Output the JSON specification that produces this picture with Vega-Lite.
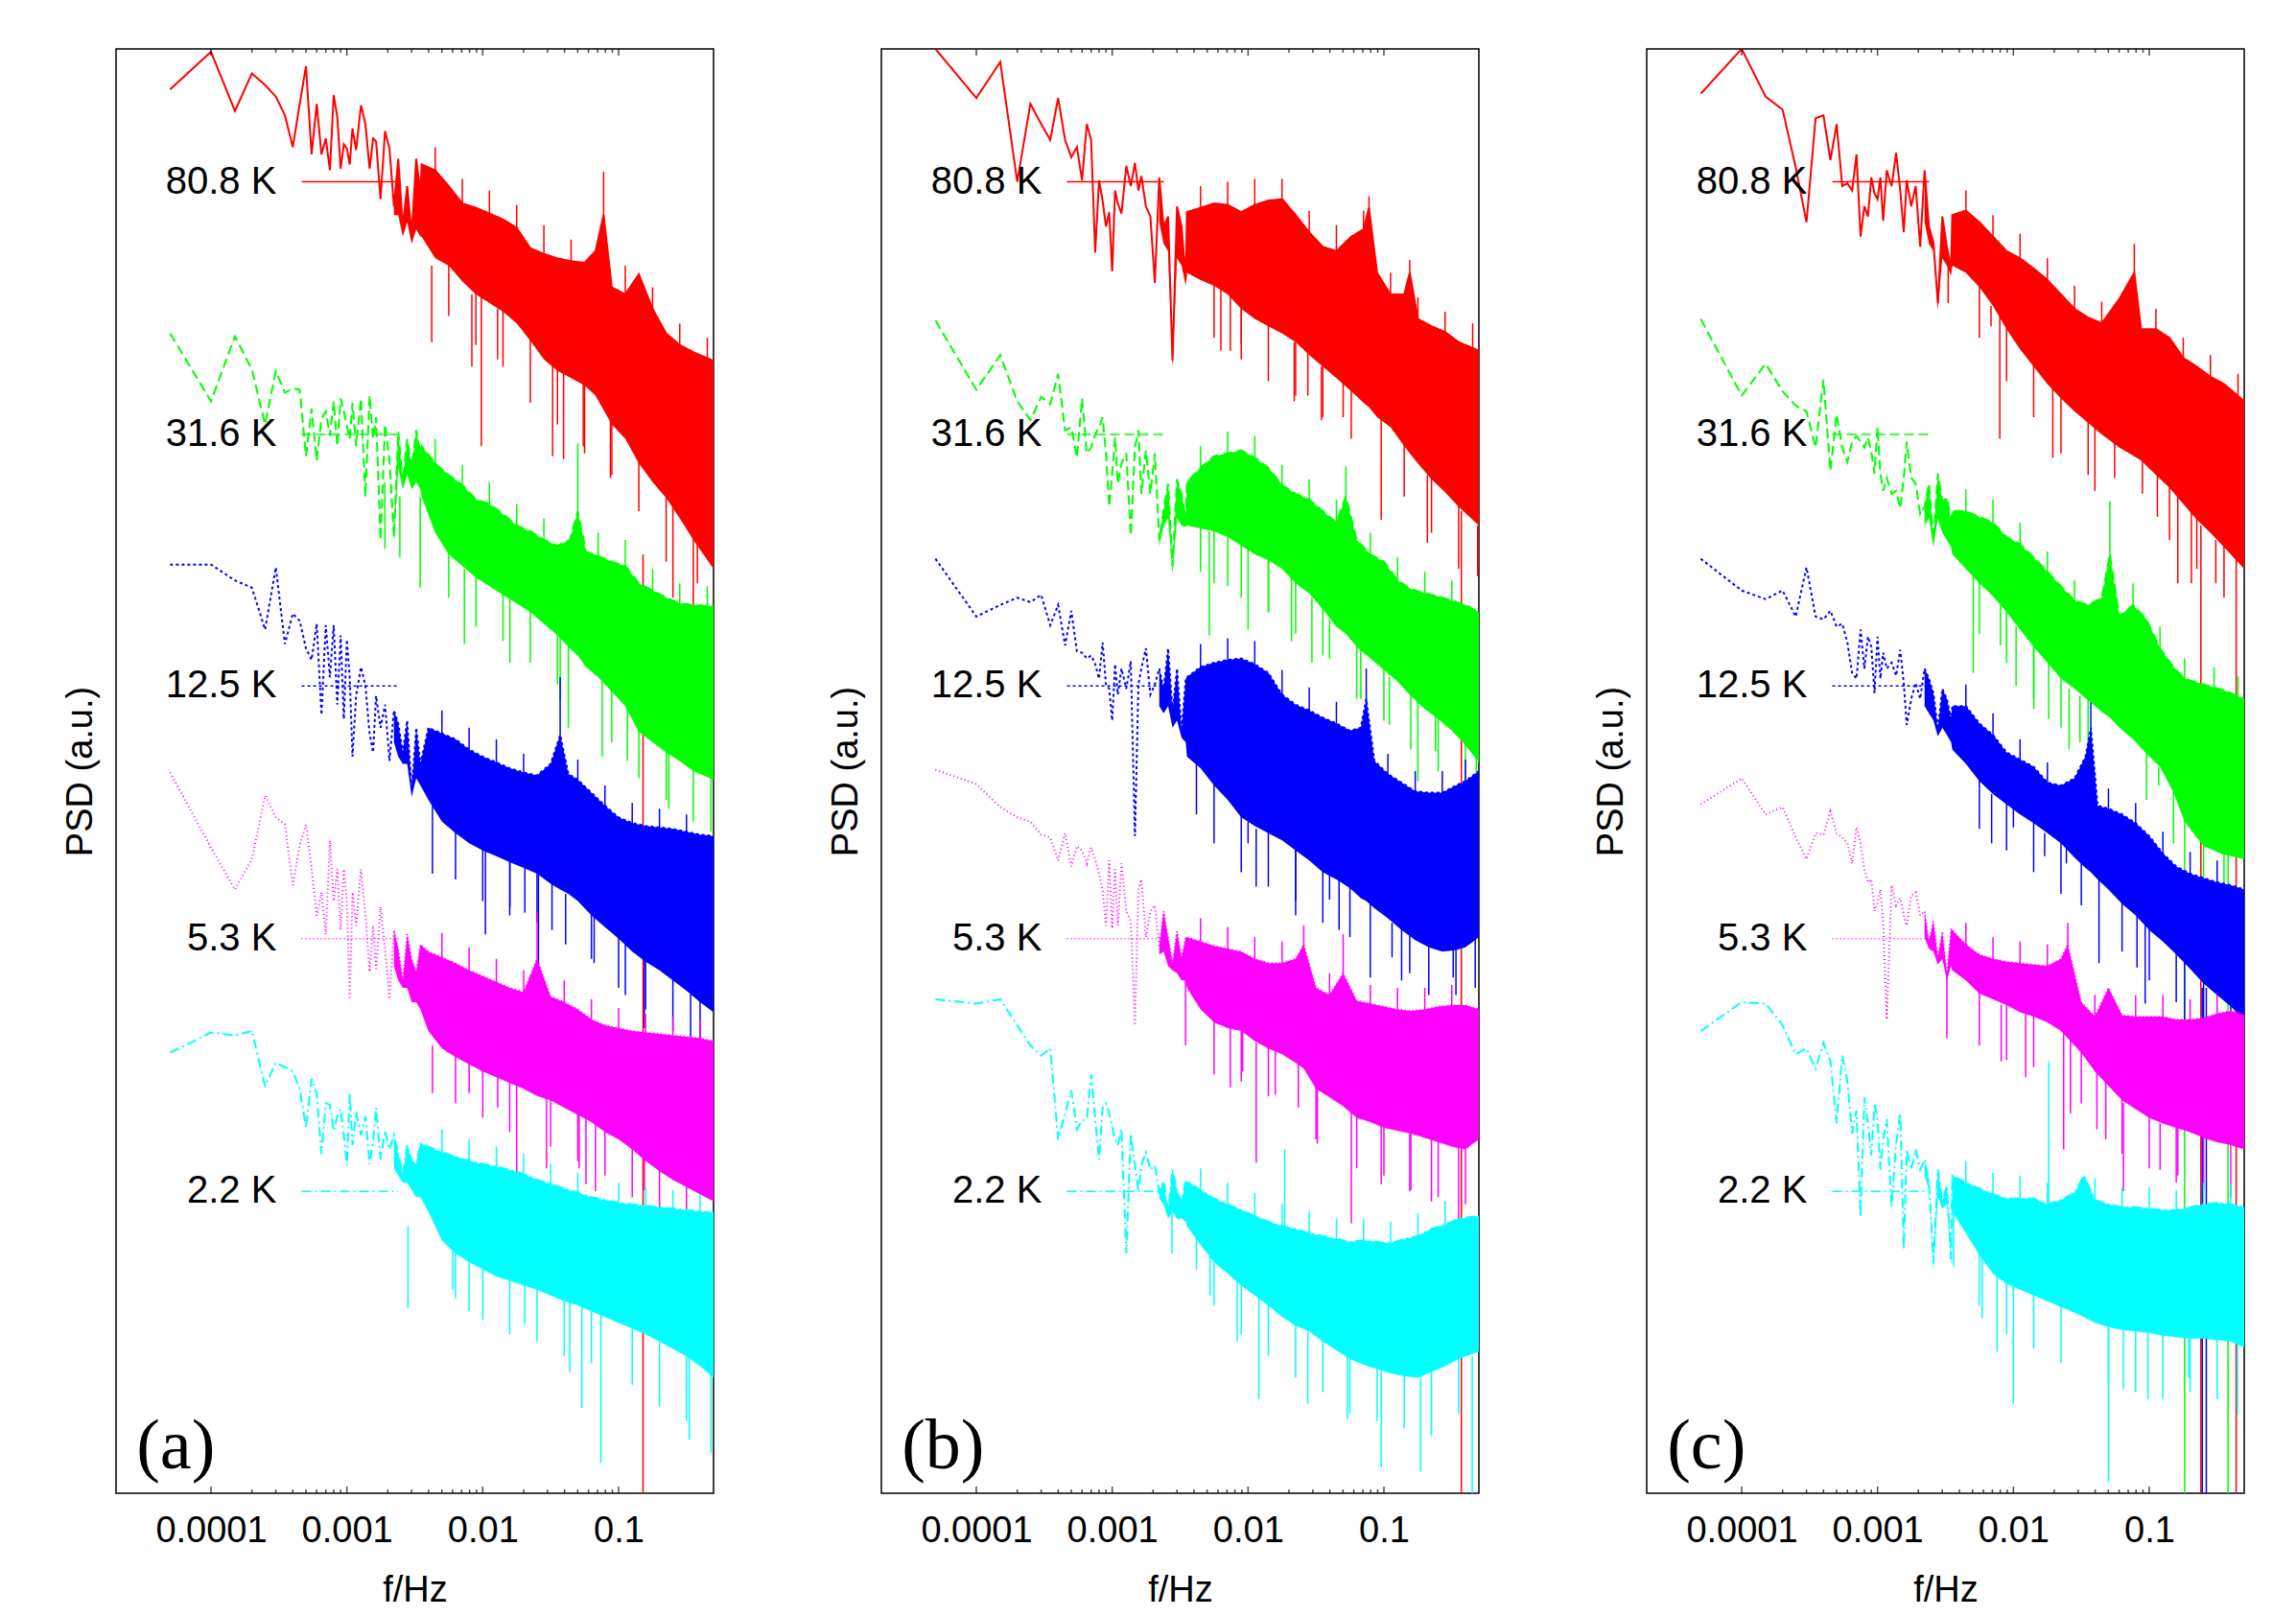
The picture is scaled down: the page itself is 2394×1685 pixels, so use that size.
{
  "$schema": "https://vega.github.io/schema/vega-lite/v6.json",
  "background": "white",
  "padding": {"left": 64, "top": 50, "right": 20, "bottom": 5},
  "spacing": 175,
  "bounds": "flush",
  "config": {
    "font": "Liberation Sans",
    "view": {"stroke": "black", "strokeWidth": 1.5},
    "axisX": {"ticks": false, "domain": false, "grid": false, "labelFontSize": 38, "labelColor": "black", "labelPadding": 20, "titleFontSize": 38, "titleFontWeight": "normal", "titleColor": "black", "titlePadding": 24},
    "axisY": {"labels": false, "ticks": false, "domain": false, "grid": false, "titleFontSize": 38, "titleFontWeight": "normal", "titleColor": "black", "titlePadding": 18}
  },
  "datasets": {
    "leg": [
      {"s": "80.8 K", "h": 9.08}, {"s": "31.6 K", "h": 7.33}, {"s": "12.5 K", "h": 5.59}, {"s": "5.3 K", "h": 3.84}, {"s": "2.2 K", "h": 2.09}
    ],
    "maj": [
      {"f": 1e-4, "h": 0}, {"f": 1e-3, "h": 0}, {"f": 1e-2, "h": 0}, {"f": 1e-1, "h": 0},
      {"f": 1e-4, "h": 10}, {"f": 1e-3, "h": 10}, {"f": 1e-2, "h": 10}, {"f": 1e-1, "h": 10}
    ],
    "min": [
      {"f": 2e-4, "h": 0}, {"f": 3e-4, "h": 0}, {"f": 4e-4, "h": 0}, {"f": 5e-4, "h": 0}, {"f": 6e-4, "h": 0}, {"f": 7e-4, "h": 0}, {"f": 8e-4, "h": 0}, {"f": 9e-4, "h": 0},
      {"f": 2e-3, "h": 0}, {"f": 3e-3, "h": 0}, {"f": 4e-3, "h": 0}, {"f": 5e-3, "h": 0}, {"f": 6e-3, "h": 0}, {"f": 7e-3, "h": 0}, {"f": 8e-3, "h": 0}, {"f": 9e-3, "h": 0},
      {"f": 0.02, "h": 0}, {"f": 0.03, "h": 0}, {"f": 0.04, "h": 0}, {"f": 0.05, "h": 0}, {"f": 0.06, "h": 0}, {"f": 0.07, "h": 0}, {"f": 0.08, "h": 0}, {"f": 0.09, "h": 0},
      {"f": 2e-4, "h": 10}, {"f": 3e-4, "h": 10}, {"f": 4e-4, "h": 10}, {"f": 5e-4, "h": 10}, {"f": 6e-4, "h": 10}, {"f": 7e-4, "h": 10}, {"f": 8e-4, "h": 10}, {"f": 9e-4, "h": 10},
      {"f": 2e-3, "h": 10}, {"f": 3e-3, "h": 10}, {"f": 4e-3, "h": 10}, {"f": 5e-3, "h": 10}, {"f": 6e-3, "h": 10}, {"f": 7e-3, "h": 10}, {"f": 8e-3, "h": 10}, {"f": 9e-3, "h": 10},
      {"f": 0.02, "h": 10}, {"f": 0.03, "h": 10}, {"f": 0.04, "h": 10}, {"f": 0.05, "h": 10}, {"f": 0.06, "h": 10}, {"f": 0.07, "h": 10}, {"f": 0.08, "h": 10}, {"f": 0.09, "h": 10}
    ],
    "aS": [
      {"s":"80.8 K","f":5e-5,"h":9.72},{"s":"80.8 K","f":1e-4,"h":9.98},{"s":"80.8 K","f":1.5e-4,"h":9.57},{"s":"80.8 K","f":2e-4,"h":9.83},{"s":"80.8 K","f":2.5e-4,"h":9.75},{"s":"80.8 K","f":3e-4,"h":9.67},{"s":"80.8 K","f":3.5e-4,"h":9.54},{"s":"80.8 K","f":4e-4,"h":9.32},{"s":"80.8 K","f":4.5e-4,"h":9.62},{"s":"80.8 K","f":5e-4,"h":9.88},
      {"s":"80.8 K","f":5.5e-4,"h":9.27},{"s":"80.8 K","f":6e-4,"h":9.62},{"s":"80.8 K","f":6.5e-4,"h":9.27},{"s":"80.8 K","f":7e-4,"h":9.38},{"s":"80.8 K","f":7.5e-4,"h":9.16},{"s":"80.8 K","f":8e-4,"h":9.68},{"s":"80.8 K","f":8.5e-4,"h":9.53},{"s":"80.8 K","f":9e-4,"h":9.17},{"s":"80.8 K","f":9.5e-4,"h":9.34},{"s":"80.8 K","f":1e-3,"h":9.31},
      {"s":"80.8 K","f":1.05e-3,"h":9.2},{"s":"80.8 K","f":1.1e-3,"h":9.45},{"s":"80.8 K","f":1.17e-3,"h":9.3},{"s":"80.8 K","f":1.27e-3,"h":9.61},{"s":"80.8 K","f":1.37e-3,"h":9.48},{"s":"80.8 K","f":1.47e-3,"h":9.17},{"s":"80.8 K","f":1.56e-3,"h":9.38},{"s":"80.8 K","f":1.64e-3,"h":9.36},{"s":"80.8 K","f":1.77e-3,"h":8.96},
      {"s":"80.8 K","f":1.91e-3,"h":9.43},{"s":"80.8 K","f":2.06e-3,"h":9.31},{"s":"80.8 K","f":2.22e-3,"h":8.91,"l":8.85},{"s":"80.8 K","f":2.39e-3,"h":9.24,"l":8.85},{"s":"80.8 K","f":2.58e-3,"h":8.77,"l":8.7},{"s":"80.8 K","f":2.78e-3,"h":9.05,"l":8.8},{"s":"80.8 K","f":3e-3,"h":8.72,"l":8.65},{"s":"80.8 K","f":3.24e-3,"h":9.24,"l":8.75},{"s":"80.8 K","f":3.48e-3,"h":9.0,"l":8.7},
      {"s":"80.8 K","f":0.00355,"h":9.2,"l":8.7},{"s":"80.8 K","f":0.00447,"h":9.16,"l":8.55},{"s":"80.8 K","f":0.00562,"h":9.05,"l":8.5},{"s":"80.8 K","f":0.00708,"h":8.93,"l":8.39},{"s":"80.8 K","f":0.00891,"h":8.9,"l":8.3},{"s":"80.8 K","f":0.0112,"h":8.86,"l":8.24},{"s":"80.8 K","f":0.0141,"h":8.82,"l":8.18},{"s":"80.8 K","f":0.0178,"h":8.76,"l":8.1},
      {"s":"80.8 K","f":0.0224,"h":8.62,"l":7.98},{"s":"80.8 K","f":0.0282,"h":8.58,"l":7.85},{"s":"80.8 K","f":0.0355,"h":8.55,"l":7.77},{"s":"80.8 K","f":0.0447,"h":8.53,"l":7.72},{"s":"80.8 K","f":0.0562,"h":8.52,"l":7.67},{"s":"80.8 K","f":0.0676,"h":8.6,"l":7.6},{"s":"80.8 K","f":0.0776,"h":8.85,"l":7.5},{"s":"80.8 K","f":0.0891,"h":8.35,"l":7.4},
      {"s":"80.8 K","f":0.112,"h":8.3,"l":7.3},{"s":"80.8 K","f":0.141,"h":8.44,"l":7.13},{"s":"80.8 K","f":0.178,"h":8.2,"l":7.0},{"s":"80.8 K","f":0.224,"h":8.03,"l":6.89},{"s":"80.8 K","f":0.282,"h":7.95,"l":6.75},{"s":"80.8 K","f":0.355,"h":7.9,"l":6.6},{"s":"80.8 K","f":0.5,"h":7.84,"l":6.4},

      {"s":"31.6 K","f":5e-5,"h":8.03},{"s":"31.6 K","f":1e-4,"h":7.56},{"s":"31.6 K","f":1.5e-4,"h":8.01},{"s":"31.6 K","f":2e-4,"h":7.78},{"s":"31.6 K","f":2.5e-4,"h":7.4},{"s":"31.6 K","f":3e-4,"h":7.77},{"s":"31.6 K","f":3.5e-4,"h":7.62},{"s":"31.6 K","f":4e-4,"h":7.65},{"s":"31.6 K","f":4.5e-4,"h":7.64},{"s":"31.6 K","f":5e-4,"h":7.18},
      {"s":"31.6 K","f":5.5e-4,"h":7.51},{"s":"31.6 K","f":6e-4,"h":7.15},{"s":"31.6 K","f":6.5e-4,"h":7.44},{"s":"31.6 K","f":7e-4,"h":7.49},{"s":"31.6 K","f":7.5e-4,"h":7.32},{"s":"31.6 K","f":8e-4,"h":7.56},{"s":"31.6 K","f":8.5e-4,"h":7.25},{"s":"31.6 K","f":9e-4,"h":7.58},{"s":"31.6 K","f":9.5e-4,"h":7.49},{"s":"31.6 K","f":1e-3,"h":7.39},
      {"s":"31.6 K","f":1.05e-3,"h":7.3},{"s":"31.6 K","f":1.1e-3,"h":7.55},{"s":"31.6 K","f":1.17e-3,"h":7.25},{"s":"31.6 K","f":1.27e-3,"h":7.58},{"s":"31.6 K","f":1.37e-3,"h":6.9},{"s":"31.6 K","f":1.47e-3,"h":7.6},{"s":"31.6 K","f":1.56e-3,"h":7.3},{"s":"31.6 K","f":1.64e-3,"h":7.45},{"s":"31.6 K","f":1.77e-3,"h":6.6},
      {"s":"31.6 K","f":1.91e-3,"h":7.4},{"s":"31.6 K","f":2.06e-3,"h":7.15},{"s":"31.6 K","f":2.22e-3,"h":6.62,"l":6.57},{"s":"31.6 K","f":2.39e-3,"h":7.35,"l":7.1},{"s":"31.6 K","f":2.58e-3,"h":7.0,"l":6.95},{"s":"31.6 K","f":2.78e-3,"h":7.3,"l":7.05},{"s":"31.6 K","f":3e-3,"h":7.1,"l":6.95},{"s":"31.6 K","f":3.24e-3,"h":7.36,"l":7.0},{"s":"31.6 K","f":3.48e-3,"h":7.2,"l":6.95},
      {"s":"31.6 K","f":0.00355,"h":7.25,"l":6.9},{"s":"31.6 K","f":0.00447,"h":7.13,"l":6.65},{"s":"31.6 K","f":0.00562,"h":7.05,"l":6.5},{"s":"31.6 K","f":0.00708,"h":6.98,"l":6.42},{"s":"31.6 K","f":0.00891,"h":6.88,"l":6.34},{"s":"31.6 K","f":0.0112,"h":6.85,"l":6.28},{"s":"31.6 K","f":0.0141,"h":6.78,"l":6.22},{"s":"31.6 K","f":0.0178,"h":6.7,"l":6.16},
      {"s":"31.6 K","f":0.0224,"h":6.66,"l":6.1},{"s":"31.6 K","f":0.0282,"h":6.6,"l":6.02},{"s":"31.6 K","f":0.0355,"h":6.56,"l":5.94},{"s":"31.6 K","f":0.0437,"h":6.6,"l":5.85},{"s":"31.6 K","f":0.0501,"h":6.8,"l":5.8},{"s":"31.6 K","f":0.0575,"h":6.52,"l":5.72},{"s":"31.6 K","f":0.0708,"h":6.49,"l":5.65},{"s":"31.6 K","f":0.0891,"h":6.45,"l":5.55},
      {"s":"31.6 K","f":0.112,"h":6.42,"l":5.45},{"s":"31.6 K","f":0.141,"h":6.3,"l":5.27},{"s":"31.6 K","f":0.178,"h":6.25,"l":5.2},{"s":"31.6 K","f":0.224,"h":6.2,"l":5.13},{"s":"31.6 K","f":0.282,"h":6.16,"l":5.07},{"s":"31.6 K","f":0.355,"h":6.15,"l":5.0},{"s":"31.6 K","f":0.5,"h":6.14,"l":4.94},

      {"s":"12.5 K","f":5e-5,"h":6.43},{"s":"12.5 K","f":1e-4,"h":6.43},{"s":"12.5 K","f":1.5e-4,"h":6.32},{"s":"12.5 K","f":2e-4,"h":6.27},{"s":"12.5 K","f":2.5e-4,"h":5.98},{"s":"12.5 K","f":3e-4,"h":6.41},{"s":"12.5 K","f":3.5e-4,"h":5.88},{"s":"12.5 K","f":4e-4,"h":6.09},{"s":"12.5 K","f":4.5e-4,"h":6.04},{"s":"12.5 K","f":5e-4,"h":5.85},
      {"s":"12.5 K","f":5.5e-4,"h":5.77},{"s":"12.5 K","f":6e-4,"h":6.02},{"s":"12.5 K","f":6.5e-4,"h":5.39},{"s":"12.5 K","f":7e-4,"h":6.01},{"s":"12.5 K","f":7.5e-4,"h":5.65},{"s":"12.5 K","f":8e-4,"h":6.01},{"s":"12.5 K","f":8.5e-4,"h":5.46},{"s":"12.5 K","f":9e-4,"h":5.94},{"s":"12.5 K","f":9.5e-4,"h":5.36},{"s":"12.5 K","f":1e-3,"h":5.91},
      {"s":"12.5 K","f":1.05e-3,"h":5.65},{"s":"12.5 K","f":1.1e-3,"h":5.1},{"s":"12.5 K","f":1.17e-3,"h":5.52},{"s":"12.5 K","f":1.27e-3,"h":5.72},{"s":"12.5 K","f":1.37e-3,"h":5.59},{"s":"12.5 K","f":1.47e-3,"h":5.26},{"s":"12.5 K","f":1.56e-3,"h":5.13},{"s":"12.5 K","f":1.64e-3,"h":5.52},{"s":"12.5 K","f":1.77e-3,"h":5.3},
      {"s":"12.5 K","f":1.91e-3,"h":5.46},{"s":"12.5 K","f":2.06e-3,"h":5.07},{"s":"12.5 K","f":2.22e-3,"h":5.42,"l":5.2},{"s":"12.5 K","f":2.39e-3,"h":5.33,"l":5.1},{"s":"12.5 K","f":2.58e-3,"h":5.13,"l":5.05},{"s":"12.5 K","f":2.78e-3,"h":5.35,"l":5.05},{"s":"12.5 K","f":3e-3,"h":4.87,"l":4.82},{"s":"12.5 K","f":3.24e-3,"h":5.3,"l":4.95},{"s":"12.5 K","f":3.48e-3,"h":5.05,"l":4.9},
      {"s":"12.5 K","f":0.00398,"h":5.3,"l":4.8},{"s":"12.5 K","f":0.00501,"h":5.26,"l":4.65},{"s":"12.5 K","f":0.00631,"h":5.22,"l":4.57},{"s":"12.5 K","f":0.00794,"h":5.15,"l":4.5},{"s":"12.5 K","f":0.01,"h":5.1,"l":4.45},{"s":"12.5 K","f":0.0126,"h":5.06,"l":4.41},{"s":"12.5 K","f":0.0158,"h":5.02,"l":4.37},{"s":"12.5 K","f":0.02,"h":4.99,"l":4.33},
      {"s":"12.5 K","f":0.0251,"h":4.97,"l":4.29},{"s":"12.5 K","f":0.0316,"h":5.05,"l":4.22},{"s":"12.5 K","f":0.0372,"h":5.25,"l":4.18},{"s":"12.5 K","f":0.0427,"h":4.98,"l":4.15},{"s":"12.5 K","f":0.0501,"h":4.94,"l":4.1},{"s":"12.5 K","f":0.0631,"h":4.85,"l":4.0},{"s":"12.5 K","f":0.0794,"h":4.76,"l":3.92},{"s":"12.5 K","f":0.1,"h":4.68,"l":3.84},
      {"s":"12.5 K","f":0.126,"h":4.64,"l":3.75},{"s":"12.5 K","f":0.158,"h":4.62,"l":3.68},{"s":"12.5 K","f":0.2,"h":4.61,"l":3.62},{"s":"12.5 K","f":0.251,"h":4.6,"l":3.55},{"s":"12.5 K","f":0.316,"h":4.58,"l":3.48},{"s":"12.5 K","f":0.398,"h":4.56,"l":3.4},{"s":"12.5 K","f":0.5,"h":4.55,"l":3.33},

      {"s":"5.3 K","f":5e-5,"h":4.99},{"s":"5.3 K","f":1e-4,"h":4.47},{"s":"5.3 K","f":1.5e-4,"h":4.18},{"s":"5.3 K","f":2e-4,"h":4.39},{"s":"5.3 K","f":2.5e-4,"h":4.83},{"s":"5.3 K","f":3e-4,"h":4.68},{"s":"5.3 K","f":3.5e-4,"h":4.63},{"s":"5.3 K","f":4e-4,"h":4.21},{"s":"5.3 K","f":4.5e-4,"h":4.49},{"s":"5.3 K","f":5e-4,"h":4.63},
      {"s":"5.3 K","f":5.5e-4,"h":4.32},{"s":"5.3 K","f":6e-4,"h":4.0},{"s":"5.3 K","f":6.5e-4,"h":4.16},{"s":"5.3 K","f":7e-4,"h":3.87},{"s":"5.3 K","f":7.5e-4,"h":4.52},{"s":"5.3 K","f":8e-4,"h":4.1},{"s":"5.3 K","f":8.5e-4,"h":4.32},{"s":"5.3 K","f":9e-4,"h":3.9},{"s":"5.3 K","f":9.5e-4,"h":4.32},{"s":"5.3 K","f":1e-3,"h":4.1},
      {"s":"5.3 K","f":1.05e-3,"h":3.42},{"s":"5.3 K","f":1.1e-3,"h":4.16},{"s":"5.3 K","f":1.17e-3,"h":3.93},{"s":"5.3 K","f":1.27e-3,"h":4.32},{"s":"5.3 K","f":1.37e-3,"h":4.0},{"s":"5.3 K","f":1.47e-3,"h":3.61},{"s":"5.3 K","f":1.56e-3,"h":3.93},{"s":"5.3 K","f":1.64e-3,"h":3.63},{"s":"5.3 K","f":1.77e-3,"h":4.06},
      {"s":"5.3 K","f":1.91e-3,"h":3.77},{"s":"5.3 K","f":2.06e-3,"h":3.42},{"s":"5.3 K","f":2.22e-3,"h":3.9,"l":3.65},{"s":"5.3 K","f":2.39e-3,"h":3.77,"l":3.55},{"s":"5.3 K","f":2.58e-3,"h":3.55,"l":3.5},{"s":"5.3 K","f":2.78e-3,"h":3.87,"l":3.5},{"s":"5.3 K","f":3e-3,"h":3.7,"l":3.4},{"s":"5.3 K","f":3.24e-3,"h":3.61,"l":3.4},{"s":"5.3 K","f":3.48e-3,"h":3.8,"l":3.35},
      {"s":"5.3 K","f":0.00398,"h":3.75,"l":3.2},{"s":"5.3 K","f":0.00501,"h":3.71,"l":3.08},{"s":"5.3 K","f":0.00631,"h":3.67,"l":3.02},{"s":"5.3 K","f":0.00794,"h":3.62,"l":2.97},{"s":"5.3 K","f":0.01,"h":3.58,"l":2.92},{"s":"5.3 K","f":0.0126,"h":3.54,"l":2.88},{"s":"5.3 K","f":0.0158,"h":3.5,"l":2.84},{"s":"5.3 K","f":0.02,"h":3.47,"l":2.8},
      {"s":"5.3 K","f":0.0251,"h":3.7,"l":2.75},{"s":"5.3 K","f":0.0316,"h":3.44,"l":2.72},{"s":"5.3 K","f":0.0398,"h":3.4,"l":2.67},{"s":"5.3 K","f":0.0501,"h":3.35,"l":2.62},{"s":"5.3 K","f":0.0631,"h":3.28,"l":2.57},{"s":"5.3 K","f":0.0794,"h":3.24,"l":2.5},{"s":"5.3 K","f":0.1,"h":3.22,"l":2.45},{"s":"5.3 K","f":0.126,"h":3.2,"l":2.38},
      {"s":"5.3 K","f":0.158,"h":3.19,"l":2.3},{"s":"5.3 K","f":0.2,"h":3.18,"l":2.23},{"s":"5.3 K","f":0.251,"h":3.17,"l":2.17},{"s":"5.3 K","f":0.316,"h":3.16,"l":2.12},{"s":"5.3 K","f":0.398,"h":3.15,"l":2.07},{"s":"5.3 K","f":0.5,"h":3.13,"l":2.02},

      {"s":"2.2 K","f":5e-5,"h":3.05},{"s":"2.2 K","f":1e-4,"h":3.19},{"s":"2.2 K","f":1.5e-4,"h":3.17},{"s":"2.2 K","f":2e-4,"h":3.2},{"s":"2.2 K","f":2.5e-4,"h":2.82},{"s":"2.2 K","f":3e-4,"h":2.98},{"s":"2.2 K","f":3.5e-4,"h":2.95},{"s":"2.2 K","f":4e-4,"h":2.92},{"s":"2.2 K","f":4.5e-4,"h":2.8},{"s":"2.2 K","f":5e-4,"h":2.53},
      {"s":"2.2 K","f":5.5e-4,"h":2.87},{"s":"2.2 K","f":6e-4,"h":2.77},{"s":"2.2 K","f":6.5e-4,"h":2.35},{"s":"2.2 K","f":7e-4,"h":2.7},{"s":"2.2 K","f":7.5e-4,"h":2.69},{"s":"2.2 K","f":8e-4,"h":2.51},{"s":"2.2 K","f":8.5e-4,"h":2.61},{"s":"2.2 K","f":9e-4,"h":2.66},{"s":"2.2 K","f":9.5e-4,"h":2.48},{"s":"2.2 K","f":1e-3,"h":2.27},
      {"s":"2.2 K","f":1.05e-3,"h":2.77},{"s":"2.2 K","f":1.1e-3,"h":2.41},{"s":"2.2 K","f":1.17e-3,"h":2.64},{"s":"2.2 K","f":1.27e-3,"h":2.48},{"s":"2.2 K","f":1.37e-3,"h":2.61},{"s":"2.2 K","f":1.47e-3,"h":2.28},{"s":"2.2 K","f":1.56e-3,"h":2.44},{"s":"2.2 K","f":1.64e-3,"h":2.67},{"s":"2.2 K","f":1.77e-3,"h":2.31},
      {"s":"2.2 K","f":1.91e-3,"h":2.51},{"s":"2.2 K","f":2.06e-3,"h":2.38},{"s":"2.2 K","f":2.22e-3,"h":2.48,"l":2.25},{"s":"2.2 K","f":2.39e-3,"h":2.35,"l":2.2},{"s":"2.2 K","f":2.58e-3,"h":2.2,"l":2.15},{"s":"2.2 K","f":2.78e-3,"h":2.41,"l":2.15},{"s":"2.2 K","f":3e-3,"h":2.3,"l":2.1},{"s":"2.2 K","f":3.24e-3,"h":2.28,"l":2.05},{"s":"2.2 K","f":3.48e-3,"h":2.42,"l":2.05},
      {"s":"2.2 K","f":0.00398,"h":2.4,"l":1.95},{"s":"2.2 K","f":0.00501,"h":2.36,"l":1.75},{"s":"2.2 K","f":0.00631,"h":2.33,"l":1.66},{"s":"2.2 K","f":0.00794,"h":2.3,"l":1.6},{"s":"2.2 K","f":0.01,"h":2.28,"l":1.55},{"s":"2.2 K","f":0.0126,"h":2.26,"l":1.5},{"s":"2.2 K","f":0.0158,"h":2.24,"l":1.47},{"s":"2.2 K","f":0.02,"h":2.21,"l":1.44},
      {"s":"2.2 K","f":0.0251,"h":2.17,"l":1.41},{"s":"2.2 K","f":0.0316,"h":2.14,"l":1.37},{"s":"2.2 K","f":0.0398,"h":2.11,"l":1.33},{"s":"2.2 K","f":0.0501,"h":2.08,"l":1.3},{"s":"2.2 K","f":0.0631,"h":2.05,"l":1.26},{"s":"2.2 K","f":0.0794,"h":2.03,"l":1.22},{"s":"2.2 K","f":0.1,"h":2.01,"l":1.18},{"s":"2.2 K","f":0.126,"h":2.0,"l":1.14},
      {"s":"2.2 K","f":0.158,"h":1.99,"l":1.1},{"s":"2.2 K","f":0.2,"h":1.98,"l":1.05},{"s":"2.2 K","f":0.251,"h":1.97,"l":1.0},{"s":"2.2 K","f":0.316,"h":1.96,"l":0.95},{"s":"2.2 K","f":0.398,"h":1.95,"l":0.88},{"s":"2.2 K","f":0.5,"h":1.94,"l":0.8}
    ],
    "aK": [
      {"s":"80.8 K","f":0.004217,"h":8.5,"l":7.97},{"s":"80.8 K","f":0.008318,"h":8.3,"l":7.8},{"s":"80.8 K","f":0.009772,"h":8.3,"l":7.25},{"s":"80.8 K","f":0.01288,"h":8.2,"l":7.85},{"s":"80.8 K","f":0.03273,"h":7.9,"l":7.18},{"s":"80.8 K","f":0.03936,"h":7.8,"l":7.16},
      {"s":"80.8 K","f":0.05495,"h":7.7,"l":7.25},{"s":"80.8 K","f":0.0871,"h":7.5,"l":7.03},{"s":"80.8 K","f":0.07762,"h":8.5,"l":9.15},{"s":"80.8 K","f":0.1514,"h":6.5,"l":0},{"s":"80.8 K","f":0.2512,"h":6.9,"l":6.2},{"s":"80.8 K","f":0.3802,"h":6.7,"l":6.3},
      {"s":"80.8 K","f":0.00447,"h":9.06,"l":9.32},{"s":"80.8 K","f":0.00562,"h":8.6,"l":8.15},{"s":"80.8 K","f":0.00708,"h":8.83,"l":9.1},{"s":"80.8 K","f":0.00891,"h":8.4,"l":7.95},{"s":"80.8 K","f":0.0112,"h":8.76,"l":9.02},{"s":"80.8 K","f":0.0141,"h":8.28,"l":7.8},{"s":"80.8 K","f":0.0178,"h":8.66,"l":8.92},
      {"s":"80.8 K","f":0.0224,"h":8.08,"l":7.55},{"s":"80.8 K","f":0.0282,"h":8.48,"l":8.78},{"s":"80.8 K","f":0.0355,"h":7.87,"l":7.4},{"s":"80.8 K","f":0.0447,"h":8.43,"l":8.68},{"s":"80.8 K","f":0.0562,"h":7.77,"l":7.2},{"s":"80.8 K","f":0.0891,"h":7.5,"l":7.05},{"s":"80.8 K","f":0.112,"h":8.2,"l":8.5},
      {"s":"80.8 K","f":0.141,"h":7.23,"l":6.8},{"s":"80.8 K","f":0.178,"h":8.1,"l":8.35},{"s":"80.8 K","f":0.224,"h":6.99,"l":6.45},{"s":"80.8 K","f":0.282,"h":7.85,"l":8.1},{"s":"80.8 K","f":0.355,"h":6.7,"l":6.15},{"s":"80.8 K","f":0.45,"h":7.77,"l":8.0},
      {"s":"31.6 K","f":0.001905,"h":7.0,"l":6.54},{"s":"31.6 K","f":0.002455,"h":6.9,"l":6.48},{"s":"31.6 K","f":0.003467,"h":6.9,"l":6.27},{"s":"31.6 K","f":0.007328,"h":6.4,"l":5.88},{"s":"31.6 K","f":0.01585,"h":6.2,"l":5.75},{"s":"31.6 K","f":0.03715,"h":5.95,"l":5.49},
      {"s":"31.6 K","f":0.04266,"h":5.9,"l":5.3},{"s":"31.6 K","f":0.05012,"h":6.6,"l":7.27},{"s":"31.6 K","f":0.07586,"h":5.65,"l":5.1},{"s":"31.6 K","f":0.1161,"h":5.5,"l":5.07},{"s":"31.6 K","f":0.2344,"h":5.15,"l":4.74},{"s":"31.6 K","f":0.4786,"h":5.0,"l":4.58},
      {"s":"31.6 K","f":0.00447,"h":7.03,"l":7.3},{"s":"31.6 K","f":0.00562,"h":6.6,"l":6.2},{"s":"31.6 K","f":0.00708,"h":6.88,"l":7.12},{"s":"31.6 K","f":0.00891,"h":6.44,"l":6.0},{"s":"31.6 K","f":0.0112,"h":6.75,"l":7.0},{"s":"31.6 K","f":0.0141,"h":6.32,"l":5.9},{"s":"31.6 K","f":0.0178,"h":6.6,"l":6.85},
      {"s":"31.6 K","f":0.0224,"h":6.2,"l":5.75},{"s":"31.6 K","f":0.0282,"h":6.5,"l":6.75},{"s":"31.6 K","f":0.0355,"h":6.04,"l":5.6},{"s":"31.6 K","f":0.0708,"h":6.39,"l":6.65},{"s":"31.6 K","f":0.0891,"h":5.65,"l":5.2},{"s":"31.6 K","f":0.112,"h":6.32,"l":6.6},{"s":"31.6 K","f":0.141,"h":5.37,"l":4.95},
      {"s":"31.6 K","f":0.178,"h":6.15,"l":6.4},{"s":"31.6 K","f":0.224,"h":5.23,"l":4.8},{"s":"31.6 K","f":0.282,"h":6.06,"l":6.3},{"s":"31.6 K","f":0.355,"h":5.1,"l":4.65},{"s":"31.6 K","f":0.45,"h":6.04,"l":6.28},
      {"s":"12.5 K","f":0.004266,"h":4.8,"l":4.29},{"s":"12.5 K","f":0.01047,"h":4.45,"l":3.87},{"s":"12.5 K","f":0.01585,"h":4.4,"l":4.06},{"s":"12.5 K","f":0.02042,"h":4.35,"l":4.02},{"s":"12.5 K","f":0.0257,"h":4.3,"l":3.61},{"s":"12.5 K","f":0.03236,"h":4.25,"l":3.9},
      {"s":"12.5 K","f":0.03715,"h":5.0,"l":5.65},{"s":"12.5 K","f":0.04074,"h":4.15,"l":3.8},{"s":"12.5 K","f":0.06607,"h":4.0,"l":3.67},{"s":"12.5 K","f":0.1122,"h":3.8,"l":3.45},{"s":"12.5 K","f":0.1549,"h":3.7,"l":3.22},{"s":"12.5 K","f":0.3388,"h":3.5,"l":3.16},
      {"s":"12.5 K","f":0.00501,"h":5.16,"l":5.42},{"s":"12.5 K","f":0.00631,"h":4.67,"l":4.25},{"s":"12.5 K","f":0.00794,"h":5.05,"l":5.3},{"s":"12.5 K","f":0.01,"h":4.55,"l":4.1},{"s":"12.5 K","f":0.0126,"h":4.96,"l":5.22},{"s":"12.5 K","f":0.0158,"h":4.47,"l":4.0},{"s":"12.5 K","f":0.02,"h":4.89,"l":5.12},
      {"s":"12.5 K","f":0.0251,"h":4.39,"l":3.95},{"s":"12.5 K","f":0.0501,"h":4.84,"l":5.08},{"s":"12.5 K","f":0.0631,"h":4.1,"l":3.7},{"s":"12.5 K","f":0.0794,"h":4.66,"l":4.9},{"s":"12.5 K","f":0.1,"h":3.94,"l":3.5},{"s":"12.5 K","f":0.126,"h":4.54,"l":4.78},{"s":"12.5 K","f":0.158,"h":3.78,"l":3.35},
      {"s":"12.5 K","f":0.2,"h":4.51,"l":4.74},{"s":"12.5 K","f":0.251,"h":3.65,"l":3.2},{"s":"12.5 K","f":0.316,"h":4.48,"l":4.7},{"s":"12.5 K","f":0.398,"h":3.5,"l":3.05},
      {"s":"5.3 K","f":0.004266,"h":3.1,"l":2.77},{"s":"5.3 K","f":0.007943,"h":3.0,"l":2.77},{"s":"5.3 K","f":0.01288,"h":2.9,"l":2.67},{"s":"5.3 K","f":0.01778,"h":2.85,"l":1.9},{"s":"5.3 K","f":0.02512,"h":3.5,"l":4.02},
      {"s":"5.3 K","f":0.02951,"h":2.75,"l":2.25},{"s":"5.3 K","f":0.05129,"h":2.65,"l":2.25},{"s":"5.3 K","f":0.05754,"h":2.6,"l":2.14},{"s":"5.3 K","f":0.06761,"h":2.55,"l":2.09},{"s":"5.3 K","f":0.1549,"h":2.35,"l":2.1},
      {"s":"5.3 K","f":0.00501,"h":3.61,"l":3.88},{"s":"5.3 K","f":0.00631,"h":3.12,"l":2.7},{"s":"5.3 K","f":0.00794,"h":3.52,"l":3.78},{"s":"5.3 K","f":0.01,"h":3.02,"l":2.6},{"s":"5.3 K","f":0.0126,"h":3.44,"l":3.7},{"s":"5.3 K","f":0.0158,"h":2.94,"l":2.5},{"s":"5.3 K","f":0.02,"h":3.37,"l":3.62},
      {"s":"5.3 K","f":0.0316,"h":2.82,"l":2.4},{"s":"5.3 K","f":0.0398,"h":3.3,"l":3.55},{"s":"5.3 K","f":0.0501,"h":2.72,"l":2.3},{"s":"5.3 K","f":0.0631,"h":3.18,"l":3.42},{"s":"5.3 K","f":0.0794,"h":2.6,"l":2.2},{"s":"5.3 K","f":0.1,"h":3.12,"l":3.36},{"s":"5.3 K","f":0.126,"h":2.48,"l":2.05},
      {"s":"5.3 K","f":0.158,"h":3.09,"l":3.32},{"s":"5.3 K","f":0.2,"h":2.33,"l":1.95},{"s":"5.3 K","f":0.251,"h":3.07,"l":3.3},{"s":"5.3 K","f":0.316,"h":2.22,"l":1.85},{"s":"5.3 K","f":0.398,"h":3.05,"l":3.28},
      {"s":"2.2 K","f":0.002818,"h":1.85,"l":1.28},{"s":"2.2 K","f":0.006026,"h":1.7,"l":1.41},{"s":"2.2 K","f":0.007943,"h":1.65,"l":1.26},{"s":"2.2 K","f":0.02042,"h":1.45,"l":1.17},{"s":"2.2 K","f":0.04365,"h":1.32,"l":0.84},
      {"s":"2.2 K","f":0.0537,"h":1.3,"l":0.59},{"s":"2.2 K","f":0.07413,"h":1.25,"l":0.21},{"s":"2.2 K","f":0.3311,"h":0.96,"l":0.37},{"s":"2.2 K","f":0.4786,"h":0.85,"l":0.28},
      {"s":"2.2 K","f":0.00501,"h":2.26,"l":2.52},{"s":"2.2 K","f":0.00631,"h":1.76,"l":1.35},{"s":"2.2 K","f":0.00794,"h":2.2,"l":2.45},{"s":"2.2 K","f":0.01,"h":1.65,"l":1.2},{"s":"2.2 K","f":0.0126,"h":2.16,"l":2.4},{"s":"2.2 K","f":0.0158,"h":1.57,"l":1.1},{"s":"2.2 K","f":0.02,"h":2.11,"l":2.35},
      {"s":"2.2 K","f":0.0251,"h":1.51,"l":1.05},{"s":"2.2 K","f":0.0316,"h":2.04,"l":2.28},{"s":"2.2 K","f":0.0398,"h":1.43,"l":0.95},{"s":"2.2 K","f":0.0501,"h":1.98,"l":2.22},{"s":"2.2 K","f":0.0631,"h":1.36,"l":0.9},{"s":"2.2 K","f":0.1,"h":1.91,"l":2.15},{"s":"2.2 K","f":0.126,"h":1.24,"l":0.75},
      {"s":"2.2 K","f":0.158,"h":1.89,"l":2.12},{"s":"2.2 K","f":0.2,"h":1.15,"l":0.6},{"s":"2.2 K","f":0.251,"h":1.87,"l":2.1},{"s":"2.2 K","f":0.316,"h":1.05,"l":0.5},{"s":"2.2 K","f":0.398,"h":1.85,"l":2.08}
    ],
    "bS": [
      {"s":"80.8 K","f":5e-5,"h":10.0},{"s":"80.8 K","f":1e-4,"h":9.66},{"s":"80.8 K","f":1.5e-4,"h":9.91},{"s":"80.8 K","f":2e-4,"h":9.08},{"s":"80.8 K","f":2.5e-4,"h":9.62},{"s":"80.8 K","f":3e-4,"h":9.48},{"s":"80.8 K","f":3.5e-4,"h":9.37},{"s":"80.8 K","f":4e-4,"h":9.66},{"s":"80.8 K","f":4.5e-4,"h":9.37},{"s":"80.8 K","f":5e-4,"h":9.25},
      {"s":"80.8 K","f":5.5e-4,"h":9.32},{"s":"80.8 K","f":6e-4,"h":9.09},{"s":"80.8 K","f":6.5e-4,"h":9.48},{"s":"80.8 K","f":7e-4,"h":9.37},{"s":"80.8 K","f":7.5e-4,"h":8.59},{"s":"80.8 K","f":8e-4,"h":9.09},{"s":"80.8 K","f":8.5e-4,"h":8.95},{"s":"80.8 K","f":9e-4,"h":8.77},{"s":"80.8 K","f":9.5e-4,"h":8.87},{"s":"80.8 K","f":1e-3,"h":8.46},
      {"s":"80.8 K","f":1.05e-3,"h":9.02},{"s":"80.8 K","f":1.1e-3,"h":8.93},{"s":"80.8 K","f":1.17e-3,"h":8.86},{"s":"80.8 K","f":1.27e-3,"h":9.19},{"s":"80.8 K","f":1.37e-3,"h":9.05},{"s":"80.8 K","f":1.47e-3,"h":9.21},{"s":"80.8 K","f":1.56e-3,"h":9.02},{"s":"80.8 K","f":1.64e-3,"h":9.12},{"s":"80.8 K","f":1.77e-3,"h":8.91},
      {"s":"80.8 K","f":1.91e-3,"h":8.84},{"s":"80.8 K","f":2.06e-3,"h":8.38},{"s":"80.8 K","f":2.22e-3,"h":9.11,"l":8.8},{"s":"80.8 K","f":2.39e-3,"h":8.77,"l":8.65},{"s":"80.8 K","f":2.58e-3,"h":8.84,"l":8.6},{"s":"80.8 K","f":2.78e-3,"h":7.84,"l":7.79},{"s":"80.8 K","f":3e-3,"h":8.91,"l":8.55},{"s":"80.8 K","f":3.24e-3,"h":8.77,"l":8.5},{"s":"80.8 K","f":3.48e-3,"h":8.41,"l":8.36},
      {"s":"80.8 K","f":0.00355,"h":8.87,"l":8.45},{"s":"80.8 K","f":0.00447,"h":8.9,"l":8.4},{"s":"80.8 K","f":0.00562,"h":8.93,"l":8.36},{"s":"80.8 K","f":0.00708,"h":8.92,"l":8.3},{"s":"80.8 K","f":0.00891,"h":8.87,"l":8.2},{"s":"80.8 K","f":0.0112,"h":8.92,"l":8.13},{"s":"80.8 K","f":0.0141,"h":8.95,"l":8.08},{"s":"80.8 K","f":0.0178,"h":8.96,"l":8.03},
      {"s":"80.8 K","f":0.0224,"h":8.85,"l":7.97},{"s":"80.8 K","f":0.0282,"h":8.73,"l":7.88},{"s":"80.8 K","f":0.0355,"h":8.63,"l":7.8},{"s":"80.8 K","f":0.0447,"h":8.6,"l":7.72},{"s":"80.8 K","f":0.0575,"h":8.7,"l":7.63},{"s":"80.8 K","f":0.0708,"h":8.75,"l":7.55},{"s":"80.8 K","f":0.0776,"h":8.9,"l":7.52},{"s":"80.8 K","f":0.0891,"h":8.45,"l":7.45},
      {"s":"80.8 K","f":0.112,"h":8.3,"l":7.38},{"s":"80.8 K","f":0.141,"h":8.3,"l":7.25},{"s":"80.8 K","f":0.155,"h":8.45,"l":7.2},{"s":"80.8 K","f":0.178,"h":8.13,"l":7.13},{"s":"80.8 K","f":0.224,"h":8.08,"l":7.02},{"s":"80.8 K","f":0.282,"h":8.04,"l":6.93},{"s":"80.8 K","f":0.355,"h":7.97,"l":6.83},{"s":"80.8 K","f":0.5,"h":7.91,"l":6.7},

      {"s":"31.6 K","f":5e-5,"h":8.12},{"s":"31.6 K","f":1e-4,"h":7.64},{"s":"31.6 K","f":1.5e-4,"h":7.88},{"s":"31.6 K","f":2e-4,"h":7.56},{"s":"31.6 K","f":2.5e-4,"h":7.43},{"s":"31.6 K","f":3e-4,"h":7.59},{"s":"31.6 K","f":3.5e-4,"h":7.54},{"s":"31.6 K","f":4e-4,"h":7.75},{"s":"31.6 K","f":4.5e-4,"h":7.36},{"s":"31.6 K","f":5e-4,"h":7.38},
      {"s":"31.6 K","f":5.5e-4,"h":7.17},{"s":"31.6 K","f":6e-4,"h":7.58},{"s":"31.6 K","f":6.5e-4,"h":7.2},{"s":"31.6 K","f":7e-4,"h":7.24},{"s":"31.6 K","f":7.5e-4,"h":7.33},{"s":"31.6 K","f":8e-4,"h":7.38},{"s":"31.6 K","f":8.5e-4,"h":7.45},{"s":"31.6 K","f":9e-4,"h":7.2},{"s":"31.6 K","f":9.5e-4,"h":6.83},{"s":"31.6 K","f":1e-3,"h":7.06},
      {"s":"31.6 K","f":1.05e-3,"h":7.31},{"s":"31.6 K","f":1.1e-3,"h":6.99},{"s":"31.6 K","f":1.17e-3,"h":7.13},{"s":"31.6 K","f":1.27e-3,"h":7.2},{"s":"31.6 K","f":1.37e-3,"h":6.63},{"s":"31.6 K","f":1.47e-3,"h":7.24},{"s":"31.6 K","f":1.56e-3,"h":7.36},{"s":"31.6 K","f":1.64e-3,"h":6.92},{"s":"31.6 K","f":1.77e-3,"h":7.22},
      {"s":"31.6 K","f":1.91e-3,"h":6.92},{"s":"31.6 K","f":2.06e-3,"h":7.2},{"s":"31.6 K","f":2.22e-3,"h":6.6,"l":6.55},{"s":"31.6 K","f":2.39e-3,"h":6.81,"l":6.7},{"s":"31.6 K","f":2.58e-3,"h":6.99,"l":6.75},{"s":"31.6 K","f":2.78e-3,"h":6.42,"l":6.37},{"s":"31.6 K","f":3e-3,"h":7.02,"l":6.75},{"s":"31.6 K","f":3.24e-3,"h":6.92,"l":6.7},{"s":"31.6 K","f":3.48e-3,"h":6.74,"l":6.69},
      {"s":"31.6 K","f":0.00355,"h":7.0,"l":6.7},{"s":"31.6 K","f":0.00447,"h":7.1,"l":6.68},{"s":"31.6 K","f":0.00562,"h":7.18,"l":6.66},{"s":"31.6 K","f":0.00708,"h":7.2,"l":6.62},{"s":"31.6 K","f":0.00891,"h":7.22,"l":6.56},{"s":"31.6 K","f":0.0112,"h":7.17,"l":6.5},{"s":"31.6 K","f":0.0141,"h":7.1,"l":6.46},{"s":"31.6 K","f":0.0178,"h":6.98,"l":6.4},
      {"s":"31.6 K","f":0.0224,"h":6.92,"l":6.3},{"s":"31.6 K","f":0.0282,"h":6.88,"l":6.23},{"s":"31.6 K","f":0.0355,"h":6.8,"l":6.12},{"s":"31.6 K","f":0.0447,"h":6.72,"l":6.0},{"s":"31.6 K","f":0.0525,"h":6.9,"l":5.95},{"s":"31.6 K","f":0.0631,"h":6.6,"l":5.86},{"s":"31.6 K","f":0.0794,"h":6.5,"l":5.78},{"s":"31.6 K","f":0.1,"h":6.45,"l":5.7},
      {"s":"31.6 K","f":0.126,"h":6.32,"l":5.62},{"s":"31.6 K","f":0.158,"h":6.26,"l":5.52},{"s":"31.6 K","f":0.2,"h":6.23,"l":5.43},{"s":"31.6 K","f":0.251,"h":6.21,"l":5.36},{"s":"31.6 K","f":0.316,"h":6.18,"l":5.28},{"s":"31.6 K","f":0.398,"h":6.15,"l":5.18},{"s":"31.6 K","f":0.5,"h":6.1,"l":5.06},

      {"s":"12.5 K","f":5e-5,"h":6.47},{"s":"12.5 K","f":1e-4,"h":6.07},{"s":"12.5 K","f":1.5e-4,"h":6.15},{"s":"12.5 K","f":2e-4,"h":6.2},{"s":"12.5 K","f":2.5e-4,"h":6.17},{"s":"12.5 K","f":3e-4,"h":6.22},{"s":"12.5 K","f":3.5e-4,"h":6.01},{"s":"12.5 K","f":4e-4,"h":6.15},{"s":"12.5 K","f":4.5e-4,"h":5.87},{"s":"12.5 K","f":5e-4,"h":6.11},
      {"s":"12.5 K","f":5.5e-4,"h":5.83},{"s":"12.5 K","f":6e-4,"h":5.82},{"s":"12.5 K","f":6.5e-4,"h":5.78},{"s":"12.5 K","f":7e-4,"h":5.8},{"s":"12.5 K","f":7.5e-4,"h":5.74},{"s":"12.5 K","f":8e-4,"h":5.64},{"s":"12.5 K","f":8.5e-4,"h":5.89},{"s":"12.5 K","f":9e-4,"h":5.6},{"s":"12.5 K","f":9.5e-4,"h":5.57},{"s":"12.5 K","f":1e-3,"h":5.35},
      {"s":"12.5 K","f":1.05e-3,"h":5.74},{"s":"12.5 K","f":1.1e-3,"h":5.53},{"s":"12.5 K","f":1.17e-3,"h":5.71},{"s":"12.5 K","f":1.27e-3,"h":5.57},{"s":"12.5 K","f":1.37e-3,"h":5.76},{"s":"12.5 K","f":1.47e-3,"h":4.55},{"s":"12.5 K","f":1.56e-3,"h":5.6},{"s":"12.5 K","f":1.64e-3,"h":5.71},{"s":"12.5 K","f":1.77e-3,"h":5.85},
      {"s":"12.5 K","f":1.91e-3,"h":5.53},{"s":"12.5 K","f":2.06e-3,"h":5.6},{"s":"12.5 K","f":2.22e-3,"h":5.71,"l":5.45},{"s":"12.5 K","f":2.39e-3,"h":5.57,"l":5.4},{"s":"12.5 K","f":2.58e-3,"h":5.85,"l":5.45},{"s":"12.5 K","f":2.78e-3,"h":5.42,"l":5.3},{"s":"12.5 K","f":3e-3,"h":5.71,"l":5.35},{"s":"12.5 K","f":3.24e-3,"h":5.28,"l":5.23},{"s":"12.5 K","f":3.48e-3,"h":5.64,"l":5.2},
      {"s":"12.5 K","f":0.00355,"h":5.65,"l":5.1},{"s":"12.5 K","f":0.00447,"h":5.72,"l":5.02},{"s":"12.5 K","f":0.00562,"h":5.75,"l":4.9},{"s":"12.5 K","f":0.00708,"h":5.77,"l":4.8},{"s":"12.5 K","f":0.00891,"h":5.78,"l":4.68},{"s":"12.5 K","f":0.0112,"h":5.74,"l":4.62},{"s":"12.5 K","f":0.0141,"h":5.68,"l":4.57},{"s":"12.5 K","f":0.0178,"h":5.53,"l":4.52},
      {"s":"12.5 K","f":0.0224,"h":5.46,"l":4.45},{"s":"12.5 K","f":0.0282,"h":5.42,"l":4.38},{"s":"12.5 K","f":0.0355,"h":5.37,"l":4.3},{"s":"12.5 K","f":0.0447,"h":5.33,"l":4.25},{"s":"12.5 K","f":0.0562,"h":5.28,"l":4.19},{"s":"12.5 K","f":0.0676,"h":5.3,"l":4.12},{"s":"12.5 K","f":0.0741,"h":5.5,"l":4.1},{"s":"12.5 K","f":0.0851,"h":5.07,"l":4.05},
      {"s":"12.5 K","f":0.107,"h":4.98,"l":3.98},{"s":"12.5 K","f":0.135,"h":4.92,"l":3.9},{"s":"12.5 K","f":0.17,"h":4.86,"l":3.83},{"s":"12.5 K","f":0.214,"h":4.85,"l":3.78},{"s":"12.5 K","f":0.269,"h":4.85,"l":3.75},{"s":"12.5 K","f":0.339,"h":4.9,"l":3.76},{"s":"12.5 K","f":0.398,"h":4.93,"l":3.78},{"s":"12.5 K","f":0.5,"h":5.0,"l":3.85},

      {"s":"5.3 K","f":5e-5,"h":5.01},{"s":"5.3 K","f":1e-4,"h":4.91},{"s":"5.3 K","f":1.5e-4,"h":4.75},{"s":"5.3 K","f":2e-4,"h":4.68},{"s":"5.3 K","f":2.5e-4,"h":4.65},{"s":"5.3 K","f":3e-4,"h":4.56},{"s":"5.3 K","f":3.5e-4,"h":4.54},{"s":"5.3 K","f":4e-4,"h":4.38},{"s":"5.3 K","f":4.5e-4,"h":4.57},{"s":"5.3 K","f":5e-4,"h":4.34},
      {"s":"5.3 K","f":5.5e-4,"h":4.48},{"s":"5.3 K","f":6e-4,"h":4.45},{"s":"5.3 K","f":6.5e-4,"h":4.36},{"s":"5.3 K","f":7e-4,"h":4.47},{"s":"5.3 K","f":7.5e-4,"h":4.39},{"s":"5.3 K","f":8e-4,"h":4.29},{"s":"5.3 K","f":8.5e-4,"h":4.18},{"s":"5.3 K","f":9e-4,"h":3.93},{"s":"5.3 K","f":9.5e-4,"h":4.38},{"s":"5.3 K","f":1e-3,"h":3.91},
      {"s":"5.3 K","f":1.05e-3,"h":4.32},{"s":"5.3 K","f":1.1e-3,"h":3.93},{"s":"5.3 K","f":1.17e-3,"h":4.36},{"s":"5.3 K","f":1.27e-3,"h":4.03},{"s":"5.3 K","f":1.37e-3,"h":3.96},{"s":"5.3 K","f":1.47e-3,"h":3.24},{"s":"5.3 K","f":1.56e-3,"h":4.18},{"s":"5.3 K","f":1.64e-3,"h":4.25},{"s":"5.3 K","f":1.77e-3,"h":3.85},
      {"s":"5.3 K","f":1.91e-3,"h":4.03},{"s":"5.3 K","f":2.06e-3,"h":4.07},{"s":"5.3 K","f":2.22e-3,"h":3.78,"l":3.73},{"s":"5.3 K","f":2.39e-3,"h":4.03,"l":3.75},{"s":"5.3 K","f":2.58e-3,"h":3.85,"l":3.65},{"s":"5.3 K","f":2.78e-3,"h":3.67,"l":3.62},{"s":"5.3 K","f":3e-3,"h":3.89,"l":3.6},{"s":"5.3 K","f":3.24e-3,"h":3.71,"l":3.55},{"s":"5.3 K","f":3.48e-3,"h":3.85,"l":3.55},
      {"s":"5.3 K","f":0.00355,"h":3.85,"l":3.5},{"s":"5.3 K","f":0.00447,"h":3.82,"l":3.35},{"s":"5.3 K","f":0.00562,"h":3.79,"l":3.26},{"s":"5.3 K","f":0.00708,"h":3.77,"l":3.22},{"s":"5.3 K","f":0.00891,"h":3.75,"l":3.2},{"s":"5.3 K","f":0.0112,"h":3.7,"l":3.13},{"s":"5.3 K","f":0.0141,"h":3.67,"l":3.08},{"s":"5.3 K","f":0.0178,"h":3.67,"l":3.04},
      {"s":"5.3 K","f":0.0224,"h":3.7,"l":2.98},{"s":"5.3 K","f":0.0257,"h":3.8,"l":2.94},{"s":"5.3 K","f":0.0316,"h":3.5,"l":2.8},{"s":"5.3 K","f":0.0398,"h":3.45,"l":2.74},{"s":"5.3 K","f":0.0501,"h":3.6,"l":2.68},{"s":"5.3 K","f":0.0631,"h":3.41,"l":2.6},{"s":"5.3 K","f":0.0794,"h":3.39,"l":2.57},{"s":"5.3 K","f":0.1,"h":3.37,"l":2.53},
      {"s":"5.3 K","f":0.126,"h":3.35,"l":2.51},{"s":"5.3 K","f":0.158,"h":3.34,"l":2.49},{"s":"5.3 K","f":0.2,"h":3.35,"l":2.46},{"s":"5.3 K","f":0.251,"h":3.37,"l":2.43},{"s":"5.3 K","f":0.316,"h":3.38,"l":2.4},{"s":"5.3 K","f":0.398,"h":3.38,"l":2.38},{"s":"5.3 K","f":0.5,"h":3.35,"l":2.45},

      {"s":"2.2 K","f":5e-5,"h":3.42},{"s":"2.2 K","f":1e-4,"h":3.39},{"s":"2.2 K","f":1.5e-4,"h":3.42},{"s":"2.2 K","f":2e-4,"h":3.24},{"s":"2.2 K","f":2.5e-4,"h":3.1},{"s":"2.2 K","f":3e-4,"h":3.03},{"s":"2.2 K","f":3.5e-4,"h":3.08},{"s":"2.2 K","f":4e-4,"h":2.45},{"s":"2.2 K","f":4.5e-4,"h":2.63},{"s":"2.2 K","f":5e-4,"h":2.79},
      {"s":"2.2 K","f":5.5e-4,"h":2.52},{"s":"2.2 K","f":6e-4,"h":2.58},{"s":"2.2 K","f":6.5e-4,"h":2.59},{"s":"2.2 K","f":7e-4,"h":2.9},{"s":"2.2 K","f":7.5e-4,"h":2.59},{"s":"2.2 K","f":8e-4,"h":2.31},{"s":"2.2 K","f":8.5e-4,"h":2.67},{"s":"2.2 K","f":9e-4,"h":2.7},{"s":"2.2 K","f":9.5e-4,"h":2.63},{"s":"2.2 K","f":1e-3,"h":2.54},
      {"s":"2.2 K","f":1.05e-3,"h":2.45},{"s":"2.2 K","f":1.1e-3,"h":2.41},{"s":"2.2 K","f":1.17e-3,"h":2.52},{"s":"2.2 K","f":1.27e-3,"h":1.66},{"s":"2.2 K","f":1.37e-3,"h":2.49},{"s":"2.2 K","f":1.47e-3,"h":2.27},{"s":"2.2 K","f":1.56e-3,"h":2.09},{"s":"2.2 K","f":1.64e-3,"h":2.27},{"s":"2.2 K","f":1.77e-3,"h":2.36},
      {"s":"2.2 K","f":1.91e-3,"h":2.24},{"s":"2.2 K","f":2.06e-3,"h":2.27},{"s":"2.2 K","f":2.22e-3,"h":2.09,"l":2.04},{"s":"2.2 K","f":2.39e-3,"h":2.16,"l":2.0},{"s":"2.2 K","f":2.58e-3,"h":1.95,"l":1.9},{"s":"2.2 K","f":2.78e-3,"h":2.24,"l":1.95},{"s":"2.2 K","f":3e-3,"h":2.09,"l":1.9},{"s":"2.2 K","f":3.24e-3,"h":2.02,"l":1.9},{"s":"2.2 K","f":3.48e-3,"h":2.16,"l":1.88},
      {"s":"2.2 K","f":0.00355,"h":2.16,"l":1.85},{"s":"2.2 K","f":0.00447,"h":2.1,"l":1.72},{"s":"2.2 K","f":0.00562,"h":2.04,"l":1.6},{"s":"2.2 K","f":0.00708,"h":2.0,"l":1.52},{"s":"2.2 K","f":0.00891,"h":1.96,"l":1.44},{"s":"2.2 K","f":0.0112,"h":1.92,"l":1.37},{"s":"2.2 K","f":0.0141,"h":1.88,"l":1.3},{"s":"2.2 K","f":0.0178,"h":1.85,"l":1.22},
      {"s":"2.2 K","f":0.0224,"h":1.83,"l":1.16},{"s":"2.2 K","f":0.0282,"h":1.8,"l":1.12},{"s":"2.2 K","f":0.0355,"h":1.78,"l":1.05},{"s":"2.2 K","f":0.0447,"h":1.76,"l":0.99},{"s":"2.2 K","f":0.0562,"h":1.74,"l":0.93},{"s":"2.2 K","f":0.0708,"h":1.75,"l":0.89},{"s":"2.2 K","f":0.0891,"h":1.74,"l":0.86},{"s":"2.2 K","f":0.112,"h":1.73,"l":0.83},
      {"s":"2.2 K","f":0.141,"h":1.76,"l":0.81},{"s":"2.2 K","f":0.178,"h":1.78,"l":0.8},{"s":"2.2 K","f":0.224,"h":1.83,"l":0.84},{"s":"2.2 K","f":0.282,"h":1.86,"l":0.88},{"s":"2.2 K","f":0.355,"h":1.9,"l":0.93},{"s":"2.2 K","f":0.5,"h":1.92,"l":0.98}
    ],
    "bK": [
      {"s":"80.8 K","f":0.00631,"h":8.36,"l":7.91},{"s":"80.8 K","f":0.007413,"h":8.3,"l":7.91},{"s":"80.8 K","f":0.008913,"h":8.2,"l":7.96},{"s":"80.8 K","f":0.02188,"h":7.97,"l":7.56},{"s":"80.8 K","f":0.02754,"h":7.9,"l":7.6},{"s":"80.8 K","f":0.03467,"h":7.8,"l":7.43},{"s":"80.8 K","f":0.05012,"h":7.7,"l":7.45},
      {"s":"80.8 K","f":0.07762,"h":8.8,"l":8.98},{"s":"80.8 K","f":0.0955,"h":7.45,"l":6.74},{"s":"80.8 K","f":0.1549,"h":8.4,"l":8.54},{"s":"80.8 K","f":0.2089,"h":7.05,"l":6.58},{"s":"80.8 K","f":0.3715,"h":6.8,"l":0},{"s":"80.8 K","f":0.4898,"h":6.7,"l":6.35},
      {"s":"80.8 K","f":0.00447,"h":8.8,"l":9.05},{"s":"80.8 K","f":0.00562,"h":8.46,"l":8.0},{"s":"80.8 K","f":0.00708,"h":8.82,"l":9.08},{"s":"80.8 K","f":0.00891,"h":8.3,"l":7.85},{"s":"80.8 K","f":0.0112,"h":8.82,"l":9.1},{"s":"80.8 K","f":0.0141,"h":8.18,"l":7.7},{"s":"80.8 K","f":0.0178,"h":8.86,"l":9.1},
      {"s":"80.8 K","f":0.0224,"h":8.07,"l":7.6},{"s":"80.8 K","f":0.0282,"h":8.63,"l":8.88},{"s":"80.8 K","f":0.0355,"h":7.9,"l":7.45},{"s":"80.8 K","f":0.0447,"h":8.5,"l":8.78},{"s":"80.8 K","f":0.0575,"h":7.73,"l":7.3},{"s":"80.8 K","f":0.0708,"h":8.65,"l":8.88},{"s":"80.8 K","f":0.112,"h":8.2,"l":8.45},
      {"s":"80.8 K","f":0.141,"h":7.35,"l":6.9},{"s":"80.8 K","f":0.178,"h":8.03,"l":8.28},{"s":"80.8 K","f":0.224,"h":7.12,"l":6.65},{"s":"80.8 K","f":0.282,"h":7.94,"l":8.18},{"s":"80.8 K","f":0.355,"h":6.93,"l":6.4},{"s":"80.8 K","f":0.45,"h":7.85,"l":8.1},
      {"s":"31.6 K","f":0.004467,"h":6.68,"l":6.38},{"s":"31.6 K","f":0.005188,"h":6.66,"l":5.94},{"s":"31.6 K","f":0.007079,"h":6.62,"l":6.28},{"s":"31.6 K","f":0.01,"h":6.55,"l":5.98},{"s":"31.6 K","f":0.01413,"h":6.46,"l":6.1},{"s":"31.6 K","f":0.02089,"h":6.35,"l":5.9},{"s":"31.6 K","f":0.02951,"h":6.2,"l":5.75},
      {"s":"31.6 K","f":0.03981,"h":6.05,"l":5.78},{"s":"31.6 K","f":0.05248,"h":6.8,"l":7.11},{"s":"31.6 K","f":0.06761,"h":5.85,"l":5.5},{"s":"31.6 K","f":0.1096,"h":5.65,"l":5.32},{"s":"31.6 K","f":0.1778,"h":5.5,"l":4.93},{"s":"31.6 K","f":0.2399,"h":5.4,"l":5.14},{"s":"31.6 K","f":0.4786,"h":5.1,"l":4.79},
      {"s":"31.6 K","f":0.00447,"h":7.0,"l":7.25},{"s":"31.6 K","f":0.00562,"h":6.76,"l":6.3},{"s":"31.6 K","f":0.00708,"h":7.1,"l":7.35},{"s":"31.6 K","f":0.00891,"h":6.66,"l":6.2},{"s":"31.6 K","f":0.0112,"h":7.07,"l":7.32},{"s":"31.6 K","f":0.0141,"h":6.56,"l":6.1},{"s":"31.6 K","f":0.0178,"h":6.88,"l":7.12},
      {"s":"31.6 K","f":0.0224,"h":6.4,"l":5.95},{"s":"31.6 K","f":0.0282,"h":6.78,"l":7.02},{"s":"31.6 K","f":0.0355,"h":6.22,"l":5.8},{"s":"31.6 K","f":0.0447,"h":6.62,"l":6.88},{"s":"31.6 K","f":0.0631,"h":5.96,"l":5.5},{"s":"31.6 K","f":0.0794,"h":6.4,"l":6.65},{"s":"31.6 K","f":0.1,"h":5.8,"l":5.35},
      {"s":"31.6 K","f":0.126,"h":6.22,"l":6.48},{"s":"31.6 K","f":0.158,"h":5.62,"l":5.15},{"s":"31.6 K","f":0.2,"h":6.13,"l":6.38},{"s":"31.6 K","f":0.251,"h":5.46,"l":5.0},{"s":"31.6 K","f":0.316,"h":6.08,"l":6.32},{"s":"31.6 K","f":0.398,"h":5.28,"l":4.85},
      {"s":"12.5 K","f":0.004169,"h":5.05,"l":4.7},{"s":"12.5 K","f":0.01,"h":4.65,"l":4.5},{"s":"12.5 K","f":0.01148,"h":4.6,"l":4.2},{"s":"12.5 K","f":0.02239,"h":4.45,"l":4.0},{"s":"12.5 K","f":0.03981,"h":4.3,"l":4.11},{"s":"12.5 K","f":0.04677,"h":4.25,"l":3.9},
      {"s":"12.5 K","f":0.07413,"h":5.4,"l":5.71},{"s":"12.5 K","f":0.07943,"h":4.1,"l":3.57},{"s":"12.5 K","f":0.1148,"h":3.95,"l":3.71},{"s":"12.5 K","f":0.1549,"h":3.9,"l":3.6},{"s":"12.5 K","f":0.3236,"h":3.76,"l":3.57},
      {"s":"12.5 K","f":0.00447,"h":5.62,"l":5.88},{"s":"12.5 K","f":0.00562,"h":5.0,"l":4.5},{"s":"12.5 K","f":0.00708,"h":5.67,"l":5.92},{"s":"12.5 K","f":0.00891,"h":4.78,"l":4.3},{"s":"12.5 K","f":0.0112,"h":5.64,"l":5.9},{"s":"12.5 K","f":0.0141,"h":4.67,"l":4.2},{"s":"12.5 K","f":0.0178,"h":5.43,"l":5.7},
      {"s":"12.5 K","f":0.0224,"h":4.55,"l":4.1},{"s":"12.5 K","f":0.0282,"h":5.32,"l":5.58},{"s":"12.5 K","f":0.0355,"h":4.4,"l":3.95},{"s":"12.5 K","f":0.0447,"h":5.23,"l":5.48},{"s":"12.5 K","f":0.0562,"h":4.29,"l":3.85},{"s":"12.5 K","f":0.107,"h":4.88,"l":5.12},{"s":"12.5 K","f":0.135,"h":4.0,"l":3.55},
      {"s":"12.5 K","f":0.17,"h":4.76,"l":5.0},{"s":"12.5 K","f":0.214,"h":3.88,"l":3.45},{"s":"12.5 K","f":0.269,"h":4.75,"l":5.0},{"s":"12.5 K","f":0.339,"h":3.86,"l":3.45},{"s":"12.5 K","f":0.398,"h":4.83,"l":5.08},{"s":"12.5 K","f":0.47,"h":3.93,"l":3.5},
      {"s":"5.3 K","f":0.003467,"h":3.6,"l":3.1},{"s":"5.3 K","f":0.007413,"h":3.22,"l":2.81},{"s":"5.3 K","f":0.00912,"h":3.2,"l":2.92},{"s":"5.3 K","f":0.01148,"h":3.12,"l":2.29},{"s":"5.3 K","f":0.01585,"h":3.06,"l":2.76},{"s":"5.3 K","f":0.02344,"h":2.97,"l":2.67},{"s":"5.3 K","f":0.0257,"h":3.7,"l":3.93},
      {"s":"5.3 K","f":0.03236,"h":2.8,"l":2.42},{"s":"5.3 K","f":0.05012,"h":3.5,"l":3.87},{"s":"5.3 K","f":0.05754,"h":2.65,"l":1.87},{"s":"5.3 K","f":0.0955,"h":2.55,"l":2.14},{"s":"5.3 K","f":0.1549,"h":2.5,"l":2.09},{"s":"5.3 K","f":0.2239,"h":2.45,"l":2.02},{"s":"5.3 K","f":0.3548,"h":2.4,"l":1.8},
      {"s":"5.3 K","f":0.00447,"h":3.72,"l":3.98},{"s":"5.3 K","f":0.00562,"h":3.36,"l":2.9},{"s":"5.3 K","f":0.00708,"h":3.67,"l":3.92},{"s":"5.3 K","f":0.00891,"h":3.3,"l":2.85},{"s":"5.3 K","f":0.0112,"h":3.6,"l":3.85},{"s":"5.3 K","f":0.0141,"h":3.18,"l":2.75},{"s":"5.3 K","f":0.0178,"h":3.57,"l":3.82},
      {"s":"5.3 K","f":0.0316,"h":2.9,"l":2.45},{"s":"5.3 K","f":0.0398,"h":3.35,"l":3.6},{"s":"5.3 K","f":0.0631,"h":2.7,"l":2.25},{"s":"5.3 K","f":0.0794,"h":3.29,"l":3.52},{"s":"5.3 K","f":0.1,"h":2.63,"l":2.2},{"s":"5.3 K","f":0.126,"h":3.25,"l":3.5},{"s":"5.3 K","f":0.158,"h":2.59,"l":2.1},
      {"s":"5.3 K","f":0.2,"h":3.25,"l":3.5},{"s":"5.3 K","f":0.251,"h":2.53,"l":2.05},{"s":"5.3 K","f":0.316,"h":3.28,"l":3.52},{"s":"5.3 K","f":0.398,"h":2.48,"l":2.0},
      {"s":"2.2 K","f":0.002754,"h":2.2,"l":1.66},{"s":"2.2 K","f":0.004169,"h":1.8,"l":1.55},{"s":"2.2 K","f":0.005248,"h":1.68,"l":1.37},{"s":"2.2 K","f":0.008318,"h":1.5,"l":1.05},{"s":"2.2 K","f":0.01202,"h":1.4,"l":0.65},{"s":"2.2 K","f":0.01862,"h":1.85,"l":2.38},
      {"s":"2.2 K","f":0.02754,"h":1.12,"l":0.62},{"s":"2.2 K","f":0.0537,"h":0.95,"l":0.51},{"s":"2.2 K","f":0.0955,"h":0.86,"l":0.18},{"s":"2.2 K","f":0.1862,"h":0.8,"l":0.15},{"s":"2.2 K","f":0.4467,"h":0.95,"l":0.0},
      {"s":"2.2 K","f":0.00447,"h":2.0,"l":2.25},{"s":"2.2 K","f":0.00562,"h":1.7,"l":1.3},{"s":"2.2 K","f":0.00708,"h":1.9,"l":2.15},{"s":"2.2 K","f":0.00891,"h":1.54,"l":1.1},{"s":"2.2 K","f":0.0112,"h":1.82,"l":2.08},{"s":"2.2 K","f":0.0141,"h":1.4,"l":0.95},{"s":"2.2 K","f":0.0178,"h":1.75,"l":2.0},
      {"s":"2.2 K","f":0.0224,"h":1.26,"l":0.8},{"s":"2.2 K","f":0.0282,"h":1.7,"l":1.95},{"s":"2.2 K","f":0.0355,"h":1.15,"l":0.7},{"s":"2.2 K","f":0.0447,"h":1.66,"l":1.9},{"s":"2.2 K","f":0.0562,"h":1.03,"l":0.55},{"s":"2.2 K","f":0.0708,"h":1.65,"l":1.9},{"s":"2.2 K","f":0.0891,"h":0.96,"l":0.5},
      {"s":"2.2 K","f":0.112,"h":1.63,"l":1.88},{"s":"2.2 K","f":0.141,"h":0.91,"l":0.45},{"s":"2.2 K","f":0.178,"h":1.68,"l":1.94},{"s":"2.2 K","f":0.224,"h":0.94,"l":0.4},{"s":"2.2 K","f":0.282,"h":1.76,"l":2.02},{"s":"2.2 K","f":0.355,"h":1.03,"l":0.55}
    ],
    "cS": [
      {"s":"80.8 K","f":5e-5,"h":9.69},{"s":"80.8 K","f":1e-4,"h":10.0},{"s":"80.8 K","f":1.5e-4,"h":9.67},{"s":"80.8 K","f":2e-4,"h":9.58},{"s":"80.8 K","f":2.5e-4,"h":9.18},{"s":"80.8 K","f":3e-4,"h":8.8},{"s":"80.8 K","f":3.5e-4,"h":9.52},{"s":"80.8 K","f":4e-4,"h":9.54},{"s":"80.8 K","f":4.5e-4,"h":9.23},{"s":"80.8 K","f":5e-4,"h":9.48},
      {"s":"80.8 K","f":5.5e-4,"h":9.05},{"s":"80.8 K","f":6e-4,"h":9.07},{"s":"80.8 K","f":6.5e-4,"h":9.02},{"s":"80.8 K","f":7e-4,"h":9.27},{"s":"80.8 K","f":7.5e-4,"h":8.7},{"s":"80.8 K","f":8e-4,"h":8.91},{"s":"80.8 K","f":8.5e-4,"h":8.84},{"s":"80.8 K","f":9e-4,"h":9.11},{"s":"80.8 K","f":9.5e-4,"h":9.0},{"s":"80.8 K","f":1e-3,"h":8.96},
      {"s":"80.8 K","f":1.05e-3,"h":9.11},{"s":"80.8 K","f":1.1e-3,"h":8.81},{"s":"80.8 K","f":1.17e-3,"h":9.16},{"s":"80.8 K","f":1.27e-3,"h":9.05},{"s":"80.8 K","f":1.37e-3,"h":9.28},{"s":"80.8 K","f":1.47e-3,"h":9.02},{"s":"80.8 K","f":1.56e-3,"h":8.73},{"s":"80.8 K","f":1.64e-3,"h":9.09},{"s":"80.8 K","f":1.77e-3,"h":8.91},
      {"s":"80.8 K","f":1.91e-3,"h":9.05},{"s":"80.8 K","f":2.06e-3,"h":8.63},{"s":"80.8 K","f":2.22e-3,"h":9.16,"l":8.8},{"s":"80.8 K","f":2.39e-3,"h":8.77,"l":8.65},{"s":"80.8 K","f":2.58e-3,"h":8.66,"l":8.6},{"s":"80.8 K","f":2.78e-3,"h":8.24,"l":8.19},{"s":"80.8 K","f":3e-3,"h":8.84,"l":8.55},{"s":"80.8 K","f":3.24e-3,"h":8.63,"l":8.5},{"s":"80.8 K","f":3.48e-3,"h":8.48,"l":8.43},
      {"s":"80.8 K","f":0.00355,"h":8.85,"l":8.5},{"s":"80.8 K","f":0.00447,"h":8.88,"l":8.45},{"s":"80.8 K","f":0.00562,"h":8.8,"l":8.35},{"s":"80.8 K","f":0.00708,"h":8.7,"l":8.22},{"s":"80.8 K","f":0.00891,"h":8.6,"l":8.06},{"s":"80.8 K","f":0.0112,"h":8.55,"l":7.92},{"s":"80.8 K","f":0.0141,"h":8.48,"l":7.8},{"s":"80.8 K","f":0.0178,"h":8.4,"l":7.68},
      {"s":"80.8 K","f":0.0224,"h":8.3,"l":7.58},{"s":"80.8 K","f":0.0282,"h":8.2,"l":7.49},{"s":"80.8 K","f":0.0355,"h":8.14,"l":7.41},{"s":"80.8 K","f":0.0447,"h":8.1,"l":7.33},{"s":"80.8 K","f":0.0603,"h":8.27,"l":7.24},{"s":"80.8 K","f":0.0776,"h":8.45,"l":7.18},{"s":"80.8 K","f":0.0871,"h":8.06,"l":7.15},{"s":"80.8 K","f":0.112,"h":8.06,"l":7.05},
      {"s":"80.8 K","f":0.141,"h":8.0,"l":6.96},{"s":"80.8 K","f":0.178,"h":7.86,"l":6.85},{"s":"80.8 K","f":0.224,"h":7.8,"l":6.74},{"s":"80.8 K","f":0.282,"h":7.73,"l":6.65},{"s":"80.8 K","f":0.355,"h":7.68,"l":6.55},{"s":"80.8 K","f":0.5,"h":7.56,"l":6.4},

      {"s":"31.6 K","f":5e-5,"h":8.13},{"s":"31.6 K","f":1e-4,"h":7.6},{"s":"31.6 K","f":1.5e-4,"h":7.82},{"s":"31.6 K","f":2e-4,"h":7.63},{"s":"31.6 K","f":2.5e-4,"h":7.53},{"s":"31.6 K","f":3e-4,"h":7.49},{"s":"31.6 K","f":3.5e-4,"h":7.24},{"s":"31.6 K","f":4e-4,"h":7.71},{"s":"31.6 K","f":4.5e-4,"h":7.08},{"s":"31.6 K","f":5e-4,"h":7.47},
      {"s":"31.6 K","f":5.5e-4,"h":7.24},{"s":"31.6 K","f":6e-4,"h":7.14},{"s":"31.6 K","f":6.5e-4,"h":7.28},{"s":"31.6 K","f":7e-4,"h":7.32},{"s":"31.6 K","f":7.5e-4,"h":7.28},{"s":"31.6 K","f":8e-4,"h":7.24},{"s":"31.6 K","f":8.5e-4,"h":7.31},{"s":"31.6 K","f":9e-4,"h":7.21},{"s":"31.6 K","f":9.5e-4,"h":7.06},{"s":"31.6 K","f":1e-3,"h":7.38},
      {"s":"31.6 K","f":1.05e-3,"h":7.06},{"s":"31.6 K","f":1.1e-3,"h":6.94},{"s":"31.6 K","f":1.17e-3,"h":7.03},{"s":"31.6 K","f":1.27e-3,"h":6.92},{"s":"31.6 K","f":1.37e-3,"h":6.94},{"s":"31.6 K","f":1.47e-3,"h":6.82},{"s":"31.6 K","f":1.56e-3,"h":7.03},{"s":"31.6 K","f":1.64e-3,"h":7.28},{"s":"31.6 K","f":1.77e-3,"h":7.03},
      {"s":"31.6 K","f":1.91e-3,"h":6.99},{"s":"31.6 K","f":2.06e-3,"h":6.78},{"s":"31.6 K","f":2.22e-3,"h":6.83,"l":6.7},{"s":"31.6 K","f":2.39e-3,"h":6.99,"l":6.75},{"s":"31.6 K","f":2.58e-3,"h":6.6,"l":6.55},{"s":"31.6 K","f":2.78e-3,"h":7.06,"l":6.75},{"s":"31.6 K","f":3e-3,"h":6.87,"l":6.65},{"s":"31.6 K","f":3.24e-3,"h":6.89,"l":6.6},{"s":"31.6 K","f":3.48e-3,"h":6.74,"l":6.55},
      {"s":"31.6 K","f":0.00355,"h":6.8,"l":6.5},{"s":"31.6 K","f":0.00447,"h":6.8,"l":6.4},{"s":"31.6 K","f":0.00562,"h":6.76,"l":6.3},{"s":"31.6 K","f":0.00708,"h":6.72,"l":6.21},{"s":"31.6 K","f":0.00891,"h":6.62,"l":6.1},{"s":"31.6 K","f":0.0112,"h":6.57,"l":5.98},{"s":"31.6 K","f":0.0141,"h":6.48,"l":5.86},{"s":"31.6 K","f":0.0178,"h":6.38,"l":5.75},
      {"s":"31.6 K","f":0.0224,"h":6.28,"l":5.64},{"s":"31.6 K","f":0.0282,"h":6.18,"l":5.57},{"s":"31.6 K","f":0.0355,"h":6.15,"l":5.49},{"s":"31.6 K","f":0.0447,"h":6.2,"l":5.41},{"s":"31.6 K","f":0.0513,"h":6.5,"l":5.37},{"s":"31.6 K","f":0.0603,"h":6.07,"l":5.3},{"s":"31.6 K","f":0.0759,"h":6.15,"l":5.22},{"s":"31.6 K","f":0.0955,"h":6.05,"l":5.12},
      {"s":"31.6 K","f":0.12,"h":5.85,"l":5.03},{"s":"31.6 K","f":0.151,"h":5.72,"l":4.85},{"s":"31.6 K","f":0.182,"h":5.64,"l":4.65},{"s":"31.6 K","f":0.251,"h":5.6,"l":4.48},{"s":"31.6 K","f":0.355,"h":5.56,"l":4.42},{"s":"31.6 K","f":0.5,"h":5.5,"l":4.39},

      {"s":"12.5 K","f":5e-5,"h":6.47},{"s":"12.5 K","f":1e-4,"h":6.25},{"s":"12.5 K","f":1.5e-4,"h":6.19},{"s":"12.5 K","f":2e-4,"h":6.25},{"s":"12.5 K","f":2.5e-4,"h":6.07},{"s":"12.5 K","f":3e-4,"h":6.41},{"s":"12.5 K","f":3.5e-4,"h":6.07},{"s":"12.5 K","f":4e-4,"h":6.05},{"s":"12.5 K","f":4.5e-4,"h":6.11},{"s":"12.5 K","f":5e-4,"h":6.0},
      {"s":"12.5 K","f":5.5e-4,"h":6.02},{"s":"12.5 K","f":6e-4,"h":5.89},{"s":"12.5 K","f":6.5e-4,"h":5.68},{"s":"12.5 K","f":7e-4,"h":5.64},{"s":"12.5 K","f":7.5e-4,"h":5.98},{"s":"12.5 K","f":8e-4,"h":5.71},{"s":"12.5 K","f":8.5e-4,"h":5.93},{"s":"12.5 K","f":9e-4,"h":5.86},{"s":"12.5 K","f":9.5e-4,"h":5.54},{"s":"12.5 K","f":1e-3,"h":5.93},
      {"s":"12.5 K","f":1.05e-3,"h":5.64},{"s":"12.5 K","f":1.1e-3,"h":5.82},{"s":"12.5 K","f":1.17e-3,"h":5.71},{"s":"12.5 K","f":1.27e-3,"h":5.75},{"s":"12.5 K","f":1.37e-3,"h":5.66},{"s":"12.5 K","f":1.47e-3,"h":5.84},{"s":"12.5 K","f":1.56e-3,"h":5.61},{"s":"12.5 K","f":1.64e-3,"h":5.32},{"s":"12.5 K","f":1.77e-3,"h":5.5},
      {"s":"12.5 K","f":1.91e-3,"h":5.61},{"s":"12.5 K","f":2.06e-3,"h":5.5},{"s":"12.5 K","f":2.22e-3,"h":5.71,"l":5.45},{"s":"12.5 K","f":2.39e-3,"h":5.64,"l":5.4},{"s":"12.5 K","f":2.58e-3,"h":5.54,"l":5.35},{"s":"12.5 K","f":2.78e-3,"h":5.29,"l":5.24},{"s":"12.5 K","f":3e-3,"h":5.57,"l":5.3},{"s":"12.5 K","f":3.24e-3,"h":5.5,"l":5.25},{"s":"12.5 K","f":3.48e-3,"h":5.36,"l":5.2},
      {"s":"12.5 K","f":0.00355,"h":5.45,"l":5.15},{"s":"12.5 K","f":0.00447,"h":5.45,"l":5.05},{"s":"12.5 K","f":0.00562,"h":5.33,"l":4.93},{"s":"12.5 K","f":0.00708,"h":5.25,"l":4.84},{"s":"12.5 K","f":0.00891,"h":5.13,"l":4.77},{"s":"12.5 K","f":0.0112,"h":5.08,"l":4.7},{"s":"12.5 K","f":0.0141,"h":5.03,"l":4.64},{"s":"12.5 K","f":0.0178,"h":4.92,"l":4.57},
      {"s":"12.5 K","f":0.0224,"h":4.9,"l":4.5},{"s":"12.5 K","f":0.0282,"h":4.95,"l":4.4},{"s":"12.5 K","f":0.0339,"h":5.1,"l":4.33},{"s":"12.5 K","f":0.0372,"h":5.3,"l":4.3},{"s":"12.5 K","f":0.0417,"h":4.76,"l":4.25},{"s":"12.5 K","f":0.0501,"h":4.74,"l":4.18},{"s":"12.5 K","f":0.0631,"h":4.7,"l":4.08},{"s":"12.5 K","f":0.0794,"h":4.64,"l":4.0},
      {"s":"12.5 K","f":0.1,"h":4.55,"l":3.9},{"s":"12.5 K","f":0.126,"h":4.43,"l":3.82},{"s":"12.5 K","f":0.158,"h":4.34,"l":3.73},{"s":"12.5 K","f":0.2,"h":4.29,"l":3.63},{"s":"12.5 K","f":0.251,"h":4.26,"l":3.53},{"s":"12.5 K","f":0.316,"h":4.23,"l":3.45},{"s":"12.5 K","f":0.398,"h":4.21,"l":3.37},{"s":"12.5 K","f":0.5,"h":4.18,"l":3.28},

      {"s":"5.3 K","f":5e-5,"h":4.77},{"s":"5.3 K","f":1e-4,"h":4.95},{"s":"5.3 K","f":1.5e-4,"h":4.7},{"s":"5.3 K","f":2e-4,"h":4.75},{"s":"5.3 K","f":2.5e-4,"h":4.54},{"s":"5.3 K","f":3e-4,"h":4.39},{"s":"5.3 K","f":3.5e-4,"h":4.57},{"s":"5.3 K","f":4e-4,"h":4.56},{"s":"5.3 K","f":4.5e-4,"h":4.72},{"s":"5.3 K","f":5e-4,"h":4.57},
      {"s":"5.3 K","f":5.5e-4,"h":4.54},{"s":"5.3 K","f":6e-4,"h":4.5},{"s":"5.3 K","f":6.5e-4,"h":4.36},{"s":"5.3 K","f":7e-4,"h":4.61},{"s":"5.3 K","f":7.5e-4,"h":4.5},{"s":"5.3 K","f":8e-4,"h":4.32},{"s":"5.3 K","f":8.5e-4,"h":4.23},{"s":"5.3 K","f":9e-4,"h":4.25},{"s":"5.3 K","f":9.5e-4,"h":4.03},{"s":"5.3 K","f":1e-3,"h":4.09},
      {"s":"5.3 K","f":1.05e-3,"h":4.18},{"s":"5.3 K","f":1.1e-3,"h":3.96},{"s":"5.3 K","f":1.17e-3,"h":3.28},{"s":"5.3 K","f":1.27e-3,"h":4.21},{"s":"5.3 K","f":1.37e-3,"h":4.07},{"s":"5.3 K","f":1.47e-3,"h":4.12},{"s":"5.3 K","f":1.56e-3,"h":4.0},{"s":"5.3 K","f":1.64e-3,"h":3.93},{"s":"5.3 K","f":1.77e-3,"h":4.14},
      {"s":"5.3 K","f":1.91e-3,"h":4.16},{"s":"5.3 K","f":2.06e-3,"h":4.0},{"s":"5.3 K","f":2.22e-3,"h":4.03,"l":3.85},{"s":"5.3 K","f":2.39e-3,"h":3.82,"l":3.77},{"s":"5.3 K","f":2.58e-3,"h":3.96,"l":3.75},{"s":"5.3 K","f":2.78e-3,"h":3.71,"l":3.66},{"s":"5.3 K","f":3e-3,"h":3.89,"l":3.7},{"s":"5.3 K","f":3.24e-3,"h":3.6,"l":3.55},{"s":"5.3 K","f":3.48e-3,"h":3.91,"l":3.65},
      {"s":"5.3 K","f":0.00355,"h":3.9,"l":3.62},{"s":"5.3 K","f":0.00447,"h":3.8,"l":3.55},{"s":"5.3 K","f":0.00562,"h":3.73,"l":3.46},{"s":"5.3 K","f":0.00708,"h":3.7,"l":3.42},{"s":"5.3 K","f":0.00891,"h":3.68,"l":3.38},{"s":"5.3 K","f":0.0112,"h":3.67,"l":3.33},{"s":"5.3 K","f":0.0141,"h":3.66,"l":3.3},{"s":"5.3 K","f":0.0178,"h":3.65,"l":3.26},
      {"s":"5.3 K","f":0.0224,"h":3.7,"l":3.2},{"s":"5.3 K","f":0.0251,"h":3.8,"l":3.15},{"s":"5.3 K","f":0.0316,"h":3.4,"l":3.05},{"s":"5.3 K","f":0.0398,"h":3.3,"l":2.92},{"s":"5.3 K","f":0.0501,"h":3.5,"l":2.82},{"s":"5.3 K","f":0.0631,"h":3.31,"l":2.72},{"s":"5.3 K","f":0.0794,"h":3.3,"l":2.66},{"s":"5.3 K","f":0.1,"h":3.3,"l":2.6},
      {"s":"5.3 K","f":0.126,"h":3.3,"l":2.56},{"s":"5.3 K","f":0.158,"h":3.28,"l":2.53},{"s":"5.3 K","f":0.2,"h":3.28,"l":2.5},{"s":"5.3 K","f":0.251,"h":3.29,"l":2.46},{"s":"5.3 K","f":0.316,"h":3.32,"l":2.43},{"s":"5.3 K","f":0.398,"h":3.34,"l":2.41},{"s":"5.3 K","f":0.5,"h":3.31,"l":2.38},

      {"s":"2.2 K","f":5e-5,"h":3.2},{"s":"2.2 K","f":1e-4,"h":3.4},{"s":"2.2 K","f":1.5e-4,"h":3.39},{"s":"2.2 K","f":2e-4,"h":3.24},{"s":"2.2 K","f":2.5e-4,"h":3.04},{"s":"2.2 K","f":3e-4,"h":3.08},{"s":"2.2 K","f":3.5e-4,"h":2.94},{"s":"2.2 K","f":4e-4,"h":3.12},{"s":"2.2 K","f":4.5e-4,"h":2.99},{"s":"2.2 K","f":5e-4,"h":2.56},
      {"s":"2.2 K","f":5.5e-4,"h":3.03},{"s":"2.2 K","f":6e-4,"h":2.85},{"s":"2.2 K","f":6.5e-4,"h":2.49},{"s":"2.2 K","f":7e-4,"h":2.65},{"s":"2.2 K","f":7.5e-4,"h":1.91},{"s":"2.2 K","f":8e-4,"h":2.74},{"s":"2.2 K","f":8.5e-4,"h":2.56},{"s":"2.2 K","f":9e-4,"h":2.34},{"s":"2.2 K","f":9.5e-4,"h":2.7},{"s":"2.2 K","f":1e-3,"h":2.59},
      {"s":"2.2 K","f":1.05e-3,"h":2.24},{"s":"2.2 K","f":1.1e-3,"h":2.45},{"s":"2.2 K","f":1.17e-3,"h":2.59},{"s":"2.2 K","f":1.27e-3,"h":1.98},{"s":"2.2 K","f":1.37e-3,"h":2.42},{"s":"2.2 K","f":1.47e-3,"h":2.63},{"s":"2.2 K","f":1.56e-3,"h":1.69},{"s":"2.2 K","f":1.64e-3,"h":2.38},{"s":"2.2 K","f":1.77e-3,"h":2.24},
      {"s":"2.2 K","f":1.91e-3,"h":2.38},{"s":"2.2 K","f":2.06e-3,"h":2.24},{"s":"2.2 K","f":2.22e-3,"h":2.31,"l":2.2},{"s":"2.2 K","f":2.39e-3,"h":2.16,"l":2.1},{"s":"2.2 K","f":2.58e-3,"h":1.59,"l":1.54},{"s":"2.2 K","f":2.78e-3,"h":2.24,"l":2.05},{"s":"2.2 K","f":3e-3,"h":2.02,"l":1.97},{"s":"2.2 K","f":3.24e-3,"h":2.13,"l":2.0},{"s":"2.2 K","f":3.48e-3,"h":1.62,"l":1.57},
      {"s":"2.2 K","f":0.00355,"h":2.2,"l":1.95},{"s":"2.2 K","f":0.00447,"h":2.15,"l":1.8},{"s":"2.2 K","f":0.00562,"h":2.11,"l":1.65},{"s":"2.2 K","f":0.00708,"h":2.07,"l":1.52},{"s":"2.2 K","f":0.00891,"h":2.04,"l":1.45},{"s":"2.2 K","f":0.0112,"h":2.04,"l":1.41},{"s":"2.2 K","f":0.0141,"h":2.04,"l":1.37},{"s":"2.2 K","f":0.0178,"h":2.0,"l":1.33},
      {"s":"2.2 K","f":0.0224,"h":2.03,"l":1.29},{"s":"2.2 K","f":0.0282,"h":2.08,"l":1.25},{"s":"2.2 K","f":0.0331,"h":2.2,"l":1.22},{"s":"2.2 K","f":0.0398,"h":2.03,"l":1.18},{"s":"2.2 K","f":0.0501,"h":2.0,"l":1.15},{"s":"2.2 K","f":0.0631,"h":1.98,"l":1.13},{"s":"2.2 K","f":0.0794,"h":1.98,"l":1.12},{"s":"2.2 K","f":0.1,"h":1.97,"l":1.11},
      {"s":"2.2 K","f":0.126,"h":1.96,"l":1.09},{"s":"2.2 K","f":0.158,"h":1.96,"l":1.08},{"s":"2.2 K","f":0.2,"h":1.98,"l":1.07},{"s":"2.2 K","f":0.251,"h":2.0,"l":1.07},{"s":"2.2 K","f":0.316,"h":2.01,"l":1.06},{"s":"2.2 K","f":0.398,"h":2.0,"l":1.05},{"s":"2.2 K","f":0.5,"h":1.98,"l":1.01}
    ],
    "cK": [
      {"s":"80.8 K","f":0.003311,"h":8.6,"l":8.24},{"s":"80.8 K","f":0.00684,"h":8.22,"l":8.08},{"s":"80.8 K","f":0.007943,"h":8.15,"l":7.3},{"s":"80.8 K","f":0.0195,"h":7.65,"l":7.17},{"s":"80.8 K","f":0.03981,"h":7.4,"l":6.94},{"s":"80.8 K","f":0.0556,"h":7.3,"l":7.03},{"s":"80.8 K","f":0.07762,"h":8.4,"l":8.65},
      {"s":"80.8 K","f":0.08913,"h":7.15,"l":6.92},{"s":"80.8 K","f":0.1148,"h":7.05,"l":6.76},{"s":"80.8 K","f":0.1622,"h":6.9,"l":6.3},{"s":"80.8 K","f":0.2042,"h":6.8,"l":6.3},{"s":"80.8 K","f":0.2399,"h":6.7,"l":0},{"s":"80.8 K","f":0.309,"h":6.6,"l":6.3},{"s":"80.8 K","f":0.4365,"h":6.5,"l":0},
      {"s":"80.8 K","f":0.00447,"h":8.78,"l":9.02},{"s":"80.8 K","f":0.00562,"h":8.45,"l":8.0},{"s":"80.8 K","f":0.00708,"h":8.6,"l":8.85},{"s":"80.8 K","f":0.00891,"h":8.16,"l":7.7},{"s":"80.8 K","f":0.0112,"h":8.45,"l":8.72},{"s":"80.8 K","f":0.0141,"h":7.9,"l":7.45},{"s":"80.8 K","f":0.0178,"h":8.3,"l":8.55},
      {"s":"80.8 K","f":0.0224,"h":7.68,"l":7.2},{"s":"80.8 K","f":0.0282,"h":8.1,"l":8.36},{"s":"80.8 K","f":0.0355,"h":7.51,"l":7.05},{"s":"80.8 K","f":0.0447,"h":8.0,"l":8.25},{"s":"80.8 K","f":0.112,"h":7.96,"l":8.2},{"s":"80.8 K","f":0.141,"h":7.06,"l":6.6},{"s":"80.8 K","f":0.178,"h":7.76,"l":8.0},
      {"s":"80.8 K","f":0.224,"h":6.84,"l":6.4},{"s":"80.8 K","f":0.282,"h":7.63,"l":7.88},{"s":"80.8 K","f":0.355,"h":6.65,"l":6.2},{"s":"80.8 K","f":0.45,"h":7.5,"l":7.75},
      {"s":"31.6 K","f":0.00507,"h":6.35,"l":5.68},{"s":"31.6 K","f":0.008035,"h":6.15,"l":5.87},{"s":"31.6 K","f":0.01047,"h":6.0,"l":5.59},{"s":"31.6 K","f":0.01413,"h":5.86,"l":5.43},{"s":"31.6 K","f":0.0182,"h":5.75,"l":5.36},{"s":"31.6 K","f":0.0257,"h":5.57,"l":5.15},
      {"s":"31.6 K","f":0.0309,"h":5.52,"l":5.2},{"s":"31.6 K","f":0.05129,"h":6.4,"l":6.87},{"s":"31.6 K","f":0.1175,"h":5.03,"l":4.9},{"s":"31.6 K","f":0.182,"h":4.7,"l":0},{"s":"31.6 K","f":0.3802,"h":4.5,"l":0},
      {"s":"31.6 K","f":0.00447,"h":6.7,"l":6.95},{"s":"31.6 K","f":0.00562,"h":6.4,"l":5.95},{"s":"31.6 K","f":0.00708,"h":6.62,"l":6.88},{"s":"31.6 K","f":0.00891,"h":6.2,"l":5.75},{"s":"31.6 K","f":0.0112,"h":6.47,"l":6.72},{"s":"31.6 K","f":0.0141,"h":5.96,"l":5.5},{"s":"31.6 K","f":0.0178,"h":6.28,"l":6.52},
      {"s":"31.6 K","f":0.0224,"h":5.74,"l":5.3},{"s":"31.6 K","f":0.0282,"h":6.08,"l":6.32},{"s":"31.6 K","f":0.0355,"h":5.59,"l":5.15},{"s":"31.6 K","f":0.0759,"h":6.05,"l":6.3},{"s":"31.6 K","f":0.0955,"h":5.22,"l":4.8},{"s":"31.6 K","f":0.12,"h":5.75,"l":6.0},{"s":"31.6 K","f":0.151,"h":4.95,"l":4.5},
      {"s":"31.6 K","f":0.182,"h":5.54,"l":5.78},{"s":"31.6 K","f":0.251,"h":4.58,"l":4.1},{"s":"31.6 K","f":0.3,"h":5.48,"l":5.72},{"s":"31.6 K","f":0.355,"h":4.52,"l":4.05},{"s":"31.6 K","f":0.45,"h":5.42,"l":5.66},
      {"s":"12.5 K","f":0.006918,"h":4.84,"l":4.5},{"s":"12.5 K","f":0.01,"h":4.75,"l":4.61},{"s":"12.5 K","f":0.01698,"h":4.57,"l":4.41},{"s":"12.5 K","f":0.02455,"h":4.48,"l":4.36},{"s":"12.5 K","f":0.03162,"h":4.38,"l":4.07},{"s":"12.5 K","f":0.03715,"h":5.2,"l":5.57},
      {"s":"12.5 K","f":0.04266,"h":4.25,"l":3.67},{"s":"12.5 K","f":0.08128,"h":4.0,"l":3.64},{"s":"12.5 K","f":0.0933,"h":3.95,"l":3.39},{"s":"12.5 K","f":0.182,"h":3.7,"l":3.24},{"s":"12.5 K","f":0.2455,"h":3.5,"l":0},{"s":"12.5 K","f":0.263,"h":3.5,"l":0},
      {"s":"12.5 K","f":0.00447,"h":5.35,"l":5.6},{"s":"12.5 K","f":0.00562,"h":5.03,"l":4.6},{"s":"12.5 K","f":0.00708,"h":5.15,"l":5.4},{"s":"12.5 K","f":0.00891,"h":4.87,"l":4.45},{"s":"12.5 K","f":0.0112,"h":4.98,"l":5.22},{"s":"12.5 K","f":0.0141,"h":4.74,"l":4.3},{"s":"12.5 K","f":0.0178,"h":4.82,"l":5.06},
      {"s":"12.5 K","f":0.0224,"h":4.6,"l":4.15},{"s":"12.5 K","f":0.0501,"h":4.64,"l":4.88},{"s":"12.5 K","f":0.0631,"h":4.18,"l":3.75},{"s":"12.5 K","f":0.0794,"h":4.54,"l":4.78},{"s":"12.5 K","f":0.1,"h":4.0,"l":3.55},{"s":"12.5 K","f":0.126,"h":4.33,"l":4.58},{"s":"12.5 K","f":0.158,"h":3.83,"l":3.4},
      {"s":"12.5 K","f":0.2,"h":4.19,"l":4.44},{"s":"12.5 K","f":0.251,"h":3.63,"l":3.2},{"s":"12.5 K","f":0.316,"h":4.13,"l":4.38},{"s":"12.5 K","f":0.398,"h":3.47,"l":3.05},
      {"s":"5.3 K","f":0.003236,"h":3.62,"l":3.15},{"s":"5.3 K","f":0.008128,"h":3.38,"l":2.99},{"s":"5.3 K","f":0.0123,"h":3.32,"l":2.88},{"s":"5.3 K","f":0.02344,"h":3.2,"l":2.38},{"s":"5.3 K","f":0.02512,"h":3.7,"l":3.95},{"s":"5.3 K","f":0.0263,"h":3.15,"l":2.63},
      {"s":"5.3 K","f":0.04121,"h":2.92,"l":2.52},{"s":"5.3 K","f":0.04786,"h":2.85,"l":2.45},{"s":"5.3 K","f":0.06457,"h":2.7,"l":2.09},{"s":"5.3 K","f":0.1202,"h":2.56,"l":2.24},{"s":"5.3 K","f":0.1622,"h":2.53,"l":2.2},
      {"s":"5.3 K","f":0.00447,"h":3.7,"l":3.95},{"s":"5.3 K","f":0.00562,"h":3.56,"l":3.1},{"s":"5.3 K","f":0.00708,"h":3.6,"l":3.85},{"s":"5.3 K","f":0.00891,"h":3.48,"l":3.0},{"s":"5.3 K","f":0.0112,"h":3.57,"l":3.82},{"s":"5.3 K","f":0.0141,"h":3.4,"l":2.95},{"s":"5.3 K","f":0.0178,"h":3.55,"l":3.8},
      {"s":"5.3 K","f":0.0316,"h":3.15,"l":2.7},{"s":"5.3 K","f":0.0398,"h":3.2,"l":3.45},{"s":"5.3 K","f":0.0631,"h":2.82,"l":2.35},{"s":"5.3 K","f":0.0794,"h":3.2,"l":3.45},{"s":"5.3 K","f":0.1,"h":2.7,"l":2.25},{"s":"5.3 K","f":0.126,"h":3.2,"l":3.45},{"s":"5.3 K","f":0.158,"h":2.63,"l":2.15},
      {"s":"5.3 K","f":0.2,"h":3.18,"l":3.42},{"s":"5.3 K","f":0.251,"h":2.56,"l":2.1},{"s":"5.3 K","f":0.316,"h":3.22,"l":3.46},{"s":"5.3 K","f":0.398,"h":2.51,"l":2.05},
      {"s":"2.2 K","f":0.003631,"h":1.95,"l":1.57},{"s":"2.2 K","f":0.005888,"h":1.65,"l":1.21},{"s":"2.2 K","f":0.007586,"h":1.52,"l":0.98},{"s":"2.2 K","f":0.01,"h":1.45,"l":0.62},{"s":"2.2 K","f":0.0182,"h":2.0,"l":2.99},
      {"s":"2.2 K","f":0.05012,"h":1.15,"l":0.08},{"s":"2.2 K","f":0.06457,"h":1.13,"l":0.72},{"s":"2.2 K","f":0.09772,"h":1.11,"l":0.65},{"s":"2.2 K","f":0.195,"h":1.07,"l":0.8},{"s":"2.2 K","f":0.4467,"h":1.05,"l":0.54},
      {"s":"2.2 K","f":0.00447,"h":2.05,"l":2.3},{"s":"2.2 K","f":0.00562,"h":1.75,"l":1.3},{"s":"2.2 K","f":0.00708,"h":1.97,"l":2.22},{"s":"2.2 K","f":0.00891,"h":1.55,"l":1.1},{"s":"2.2 K","f":0.0112,"h":1.94,"l":2.2},{"s":"2.2 K","f":0.0141,"h":1.47,"l":1.0},{"s":"2.2 K","f":0.0178,"h":1.9,"l":2.15},
      {"s":"2.2 K","f":0.0224,"h":1.39,"l":0.9},{"s":"2.2 K","f":0.0398,"h":1.93,"l":2.18},{"s":"2.2 K","f":0.0501,"h":1.25,"l":0.75},{"s":"2.2 K","f":0.0631,"h":1.88,"l":2.12},{"s":"2.2 K","f":0.0794,"h":1.22,"l":0.7},{"s":"2.2 K","f":0.1,"h":1.87,"l":2.12},{"s":"2.2 K","f":0.126,"h":1.19,"l":0.65},
      {"s":"2.2 K","f":0.158,"h":1.86,"l":2.1},{"s":"2.2 K","f":0.2,"h":1.17,"l":0.7},{"s":"2.2 K","f":0.251,"h":1.9,"l":2.15},{"s":"2.2 K","f":0.316,"h":1.16,"l":0.65},{"s":"2.2 K","f":0.398,"h":1.9,"l":2.14}
    ]
  },
  "hconcat": [
    {
      "width": 623, "height": 1506,
      "layer": [
        {"data": {"name": "aK"}, "mark": {"type": "rule", "strokeWidth": 1.5, "clip": true},
         "encoding": {
           "x": {"field": "f", "type": "quantitative", "scale": {"type": "log", "domain": [2e-5, 0.5], "nice": false}, "title": "f/Hz", "axis": {"values": [0.0001, 0.001, 0.01, 0.1], "format": "~g"}},
           "y": {"field": "h", "type": "quantitative", "scale": {"domain": [0, 10], "nice": false, "zero": false}, "title": "PSD (a.u.)"},
           "y2": {"field": "l"},
           "color": {"field": "s", "type": "nominal", "scale": {"domain": ["80.8 K", "31.6 K", "12.5 K", "5.3 K", "2.2 K"], "range": ["#ff0000", "#00ff00", "#0000ff", "#ff00ff", "#00ffff"]}, "legend": null}}},
        {"data": {"name": "aS"}, "transform": [{"filter": "isValid(datum.l)"}], "mark": {"type": "area", "opacity": 1, "clip": true},
         "encoding": {
           "x": {"field": "f", "type": "quantitative", "scale": {"type": "log", "domain": [2e-5, 0.5], "nice": false}, "title": "f/Hz"},
           "y": {"field": "h", "type": "quantitative", "stack": null, "scale": {"domain": [0, 10], "nice": false, "zero": false}, "title": "PSD (a.u.)"},
           "y2": {"field": "l"},
           "color": {"field": "s", "type": "nominal", "scale": {"domain": ["80.8 K", "31.6 K", "12.5 K", "5.3 K", "2.2 K"], "range": ["#ff0000", "#00ff00", "#0000ff", "#ff00ff", "#00ffff"]}, "legend": null}}},
        {"data": {"name": "aS"}, "mark": {"type": "line", "strokeWidth": 2, "clip": true},
         "encoding": {
           "x": {"field": "f", "type": "quantitative", "scale": {"type": "log", "domain": [2e-5, 0.5], "nice": false}, "title": "f/Hz"},
           "y": {"field": "h", "type": "quantitative", "stack": null, "scale": {"domain": [0, 10], "nice": false, "zero": false}, "title": "PSD (a.u.)"},
           "color": {"field": "s", "type": "nominal", "scale": {"domain": ["80.8 K", "31.6 K", "12.5 K", "5.3 K", "2.2 K"], "range": ["#ff0000", "#00ff00", "#0000ff", "#ff00ff", "#00ffff"]}, "legend": null},
           "strokeDash": {"field": "s", "type": "nominal", "scale": {"domain": ["80.8 K", "31.6 K", "12.5 K", "5.3 K", "2.2 K"], "range": [[1, 0], [10, 5], [3, 3], [1, 3], [10, 4, 2, 4]]}, "legend": null}}},
        {"data": {"name": "leg"}, "mark": {"type": "rule", "strokeWidth": 1.5},
         "encoding": {
           "x": {"datum": 0.000465, "type": "quantitative", "scale": {"type": "log", "domain": [2e-5, 0.5], "nice": false}, "title": "f/Hz"},
           "x2": {"datum": 0.0024},
           "y": {"field": "h", "type": "quantitative", "scale": {"domain": [0, 10], "nice": false, "zero": false}, "title": "PSD (a.u.)"},
           "color": {"field": "s", "type": "nominal", "scale": {"domain": ["80.8 K", "31.6 K", "12.5 K", "5.3 K", "2.2 K"], "range": ["#ff0000", "#00ff00", "#0000ff", "#ff00ff", "#00ffff"]}, "legend": null},
           "strokeDash": {"field": "s", "type": "nominal", "scale": {"domain": ["80.8 K", "31.6 K", "12.5 K", "5.3 K", "2.2 K"], "range": [[1, 0], [10, 5], [3, 3], [1, 3], [10, 4, 2, 4]]}, "legend": null}}},
        {"data": {"name": "leg"}, "mark": {"type": "text", "align": "right", "baseline": "middle", "fontSize": 40, "font": "Liberation Sans", "color": "black"},
         "encoding": {
           "x": {"datum": 0.000304, "type": "quantitative", "scale": {"type": "log", "domain": [2e-5, 0.5], "nice": false}, "title": "f/Hz"},
           "y": {"field": "h", "type": "quantitative", "scale": {"domain": [0, 10], "nice": false, "zero": false}, "title": "PSD (a.u.)"},
           "text": {"field": "s"}}},
        {"data": {"values": [{"t": "(a)"}]}, "mark": {"type": "text", "align": "left", "baseline": "alphabetic", "fontSize": 74, "font": "Liberation Serif", "color": "black"},
         "encoding": {
           "x": {"datum": 0.0000282, "type": "quantitative", "scale": {"type": "log", "domain": [2e-5, 0.5], "nice": false}, "title": "f/Hz"},
           "y": {"datum": 0.17, "type": "quantitative", "scale": {"domain": [0, 10], "nice": false, "zero": false}, "title": "PSD (a.u.)"},
           "text": {"field": "t"}}},
        {"data": {"name": "maj"}, "mark": {"type": "tick", "orient": "vertical", "size": 14, "thickness": 1.5, "color": "black", "clip": true},
         "encoding": {
           "x": {"field": "f", "type": "quantitative", "scale": {"type": "log", "domain": [2e-5, 0.5], "nice": false}, "title": "f/Hz"},
           "y": {"field": "h", "type": "quantitative", "scale": {"domain": [0, 10], "nice": false, "zero": false}, "title": "PSD (a.u.)"}}},
        {"data": {"name": "min"}, "mark": {"type": "tick", "orient": "vertical", "size": 8, "thickness": 1.5, "color": "black", "clip": true},
         "encoding": {
           "x": {"field": "f", "type": "quantitative", "scale": {"type": "log", "domain": [2e-5, 0.5], "nice": false}, "title": "f/Hz"},
           "y": {"field": "h", "type": "quantitative", "scale": {"domain": [0, 10], "nice": false, "zero": false}, "title": "PSD (a.u.)"}}}
      ]
    },
    {
      "width": 623, "height": 1506,
      "layer": [
        {"data": {"name": "bK"}, "mark": {"type": "rule", "strokeWidth": 1.5, "clip": true},
         "encoding": {
           "x": {"field": "f", "type": "quantitative", "scale": {"type": "log", "domain": [2e-5, 0.5], "nice": false}, "title": "f/Hz", "axis": {"values": [0.0001, 0.001, 0.01, 0.1], "format": "~g"}},
           "y": {"field": "h", "type": "quantitative", "scale": {"domain": [0, 10], "nice": false, "zero": false}, "title": "PSD (a.u.)"},
           "y2": {"field": "l"},
           "color": {"field": "s", "type": "nominal", "scale": {"domain": ["80.8 K", "31.6 K", "12.5 K", "5.3 K", "2.2 K"], "range": ["#ff0000", "#00ff00", "#0000ff", "#ff00ff", "#00ffff"]}, "legend": null}}},
        {"data": {"name": "bS"}, "transform": [{"filter": "isValid(datum.l)"}], "mark": {"type": "area", "opacity": 1, "clip": true},
         "encoding": {
           "x": {"field": "f", "type": "quantitative", "scale": {"type": "log", "domain": [2e-5, 0.5], "nice": false}, "title": "f/Hz"},
           "y": {"field": "h", "type": "quantitative", "stack": null, "scale": {"domain": [0, 10], "nice": false, "zero": false}, "title": "PSD (a.u.)"},
           "y2": {"field": "l"},
           "color": {"field": "s", "type": "nominal", "scale": {"domain": ["80.8 K", "31.6 K", "12.5 K", "5.3 K", "2.2 K"], "range": ["#ff0000", "#00ff00", "#0000ff", "#ff00ff", "#00ffff"]}, "legend": null}}},
        {"data": {"name": "bS"}, "mark": {"type": "line", "strokeWidth": 2, "clip": true},
         "encoding": {
           "x": {"field": "f", "type": "quantitative", "scale": {"type": "log", "domain": [2e-5, 0.5], "nice": false}, "title": "f/Hz"},
           "y": {"field": "h", "type": "quantitative", "stack": null, "scale": {"domain": [0, 10], "nice": false, "zero": false}, "title": "PSD (a.u.)"},
           "color": {"field": "s", "type": "nominal", "scale": {"domain": ["80.8 K", "31.6 K", "12.5 K", "5.3 K", "2.2 K"], "range": ["#ff0000", "#00ff00", "#0000ff", "#ff00ff", "#00ffff"]}, "legend": null},
           "strokeDash": {"field": "s", "type": "nominal", "scale": {"domain": ["80.8 K", "31.6 K", "12.5 K", "5.3 K", "2.2 K"], "range": [[1, 0], [10, 5], [3, 3], [1, 3], [10, 4, 2, 4]]}, "legend": null}}},
        {"data": {"name": "leg"}, "mark": {"type": "rule", "strokeWidth": 1.5},
         "encoding": {
           "x": {"datum": 0.000465, "type": "quantitative", "scale": {"type": "log", "domain": [2e-5, 0.5], "nice": false}, "title": "f/Hz"},
           "x2": {"datum": 0.0024},
           "y": {"field": "h", "type": "quantitative", "scale": {"domain": [0, 10], "nice": false, "zero": false}, "title": "PSD (a.u.)"},
           "color": {"field": "s", "type": "nominal", "scale": {"domain": ["80.8 K", "31.6 K", "12.5 K", "5.3 K", "2.2 K"], "range": ["#ff0000", "#00ff00", "#0000ff", "#ff00ff", "#00ffff"]}, "legend": null},
           "strokeDash": {"field": "s", "type": "nominal", "scale": {"domain": ["80.8 K", "31.6 K", "12.5 K", "5.3 K", "2.2 K"], "range": [[1, 0], [10, 5], [3, 3], [1, 3], [10, 4, 2, 4]]}, "legend": null}}},
        {"data": {"name": "leg"}, "mark": {"type": "text", "align": "right", "baseline": "middle", "fontSize": 40, "font": "Liberation Sans", "color": "black"},
         "encoding": {
           "x": {"datum": 0.000304, "type": "quantitative", "scale": {"type": "log", "domain": [2e-5, 0.5], "nice": false}, "title": "f/Hz"},
           "y": {"field": "h", "type": "quantitative", "scale": {"domain": [0, 10], "nice": false, "zero": false}, "title": "PSD (a.u.)"},
           "text": {"field": "s"}}},
        {"data": {"values": [{"t": "(b)"}]}, "mark": {"type": "text", "align": "left", "baseline": "alphabetic", "fontSize": 74, "font": "Liberation Serif", "color": "black"},
         "encoding": {
           "x": {"datum": 0.0000282, "type": "quantitative", "scale": {"type": "log", "domain": [2e-5, 0.5], "nice": false}, "title": "f/Hz"},
           "y": {"datum": 0.17, "type": "quantitative", "scale": {"domain": [0, 10], "nice": false, "zero": false}, "title": "PSD (a.u.)"},
           "text": {"field": "t"}}},
        {"data": {"name": "maj"}, "mark": {"type": "tick", "orient": "vertical", "size": 14, "thickness": 1.5, "color": "black", "clip": true},
         "encoding": {
           "x": {"field": "f", "type": "quantitative", "scale": {"type": "log", "domain": [2e-5, 0.5], "nice": false}, "title": "f/Hz"},
           "y": {"field": "h", "type": "quantitative", "scale": {"domain": [0, 10], "nice": false, "zero": false}, "title": "PSD (a.u.)"}}},
        {"data": {"name": "min"}, "mark": {"type": "tick", "orient": "vertical", "size": 8, "thickness": 1.5, "color": "black", "clip": true},
         "encoding": {
           "x": {"field": "f", "type": "quantitative", "scale": {"type": "log", "domain": [2e-5, 0.5], "nice": false}, "title": "f/Hz"},
           "y": {"field": "h", "type": "quantitative", "scale": {"domain": [0, 10], "nice": false, "zero": false}, "title": "PSD (a.u.)"}}}
      ]
    },
    {
      "width": 623, "height": 1506,
      "layer": [
        {"data": {"name": "cK"}, "mark": {"type": "rule", "strokeWidth": 1.5, "clip": true},
         "encoding": {
           "x": {"field": "f", "type": "quantitative", "scale": {"type": "log", "domain": [2e-5, 0.5], "nice": false}, "title": "f/Hz", "axis": {"values": [0.0001, 0.001, 0.01, 0.1], "format": "~g"}},
           "y": {"field": "h", "type": "quantitative", "scale": {"domain": [0, 10], "nice": false, "zero": false}, "title": "PSD (a.u.)"},
           "y2": {"field": "l"},
           "color": {"field": "s", "type": "nominal", "scale": {"domain": ["80.8 K", "31.6 K", "12.5 K", "5.3 K", "2.2 K"], "range": ["#ff0000", "#00ff00", "#0000ff", "#ff00ff", "#00ffff"]}, "legend": null}}},
        {"data": {"name": "cS"}, "transform": [{"filter": "isValid(datum.l)"}], "mark": {"type": "area", "opacity": 1, "clip": true},
         "encoding": {
           "x": {"field": "f", "type": "quantitative", "scale": {"type": "log", "domain": [2e-5, 0.5], "nice": false}, "title": "f/Hz"},
           "y": {"field": "h", "type": "quantitative", "stack": null, "scale": {"domain": [0, 10], "nice": false, "zero": false}, "title": "PSD (a.u.)"},
           "y2": {"field": "l"},
           "color": {"field": "s", "type": "nominal", "scale": {"domain": ["80.8 K", "31.6 K", "12.5 K", "5.3 K", "2.2 K"], "range": ["#ff0000", "#00ff00", "#0000ff", "#ff00ff", "#00ffff"]}, "legend": null}}},
        {"data": {"name": "cS"}, "mark": {"type": "line", "strokeWidth": 2, "clip": true},
         "encoding": {
           "x": {"field": "f", "type": "quantitative", "scale": {"type": "log", "domain": [2e-5, 0.5], "nice": false}, "title": "f/Hz"},
           "y": {"field": "h", "type": "quantitative", "stack": null, "scale": {"domain": [0, 10], "nice": false, "zero": false}, "title": "PSD (a.u.)"},
           "color": {"field": "s", "type": "nominal", "scale": {"domain": ["80.8 K", "31.6 K", "12.5 K", "5.3 K", "2.2 K"], "range": ["#ff0000", "#00ff00", "#0000ff", "#ff00ff", "#00ffff"]}, "legend": null},
           "strokeDash": {"field": "s", "type": "nominal", "scale": {"domain": ["80.8 K", "31.6 K", "12.5 K", "5.3 K", "2.2 K"], "range": [[1, 0], [10, 5], [3, 3], [1, 3], [10, 4, 2, 4]]}, "legend": null}}},
        {"data": {"name": "leg"}, "mark": {"type": "rule", "strokeWidth": 1.5},
         "encoding": {
           "x": {"datum": 0.000465, "type": "quantitative", "scale": {"type": "log", "domain": [2e-5, 0.5], "nice": false}, "title": "f/Hz"},
           "x2": {"datum": 0.0024},
           "y": {"field": "h", "type": "quantitative", "scale": {"domain": [0, 10], "nice": false, "zero": false}, "title": "PSD (a.u.)"},
           "color": {"field": "s", "type": "nominal", "scale": {"domain": ["80.8 K", "31.6 K", "12.5 K", "5.3 K", "2.2 K"], "range": ["#ff0000", "#00ff00", "#0000ff", "#ff00ff", "#00ffff"]}, "legend": null},
           "strokeDash": {"field": "s", "type": "nominal", "scale": {"domain": ["80.8 K", "31.6 K", "12.5 K", "5.3 K", "2.2 K"], "range": [[1, 0], [10, 5], [3, 3], [1, 3], [10, 4, 2, 4]]}, "legend": null}}},
        {"data": {"name": "leg"}, "mark": {"type": "text", "align": "right", "baseline": "middle", "fontSize": 40, "font": "Liberation Sans", "color": "black"},
         "encoding": {
           "x": {"datum": 0.000304, "type": "quantitative", "scale": {"type": "log", "domain": [2e-5, 0.5], "nice": false}, "title": "f/Hz"},
           "y": {"field": "h", "type": "quantitative", "scale": {"domain": [0, 10], "nice": false, "zero": false}, "title": "PSD (a.u.)"},
           "text": {"field": "s"}}},
        {"data": {"values": [{"t": "(c)"}]}, "mark": {"type": "text", "align": "left", "baseline": "alphabetic", "fontSize": 74, "font": "Liberation Serif", "color": "black"},
         "encoding": {
           "x": {"datum": 0.0000282, "type": "quantitative", "scale": {"type": "log", "domain": [2e-5, 0.5], "nice": false}, "title": "f/Hz"},
           "y": {"datum": 0.17, "type": "quantitative", "scale": {"domain": [0, 10], "nice": false, "zero": false}, "title": "PSD (a.u.)"},
           "text": {"field": "t"}}},
        {"data": {"name": "maj"}, "mark": {"type": "tick", "orient": "vertical", "size": 14, "thickness": 1.5, "color": "black", "clip": true},
         "encoding": {
           "x": {"field": "f", "type": "quantitative", "scale": {"type": "log", "domain": [2e-5, 0.5], "nice": false}, "title": "f/Hz"},
           "y": {"field": "h", "type": "quantitative", "scale": {"domain": [0, 10], "nice": false, "zero": false}, "title": "PSD (a.u.)"}}},
        {"data": {"name": "min"}, "mark": {"type": "tick", "orient": "vertical", "size": 8, "thickness": 1.5, "color": "black", "clip": true},
         "encoding": {
           "x": {"field": "f", "type": "quantitative", "scale": {"type": "log", "domain": [2e-5, 0.5], "nice": false}, "title": "f/Hz"},
           "y": {"field": "h", "type": "quantitative", "scale": {"domain": [0, 10], "nice": false, "zero": false}, "title": "PSD (a.u.)"}}}
      ]
    }
  ]
}
